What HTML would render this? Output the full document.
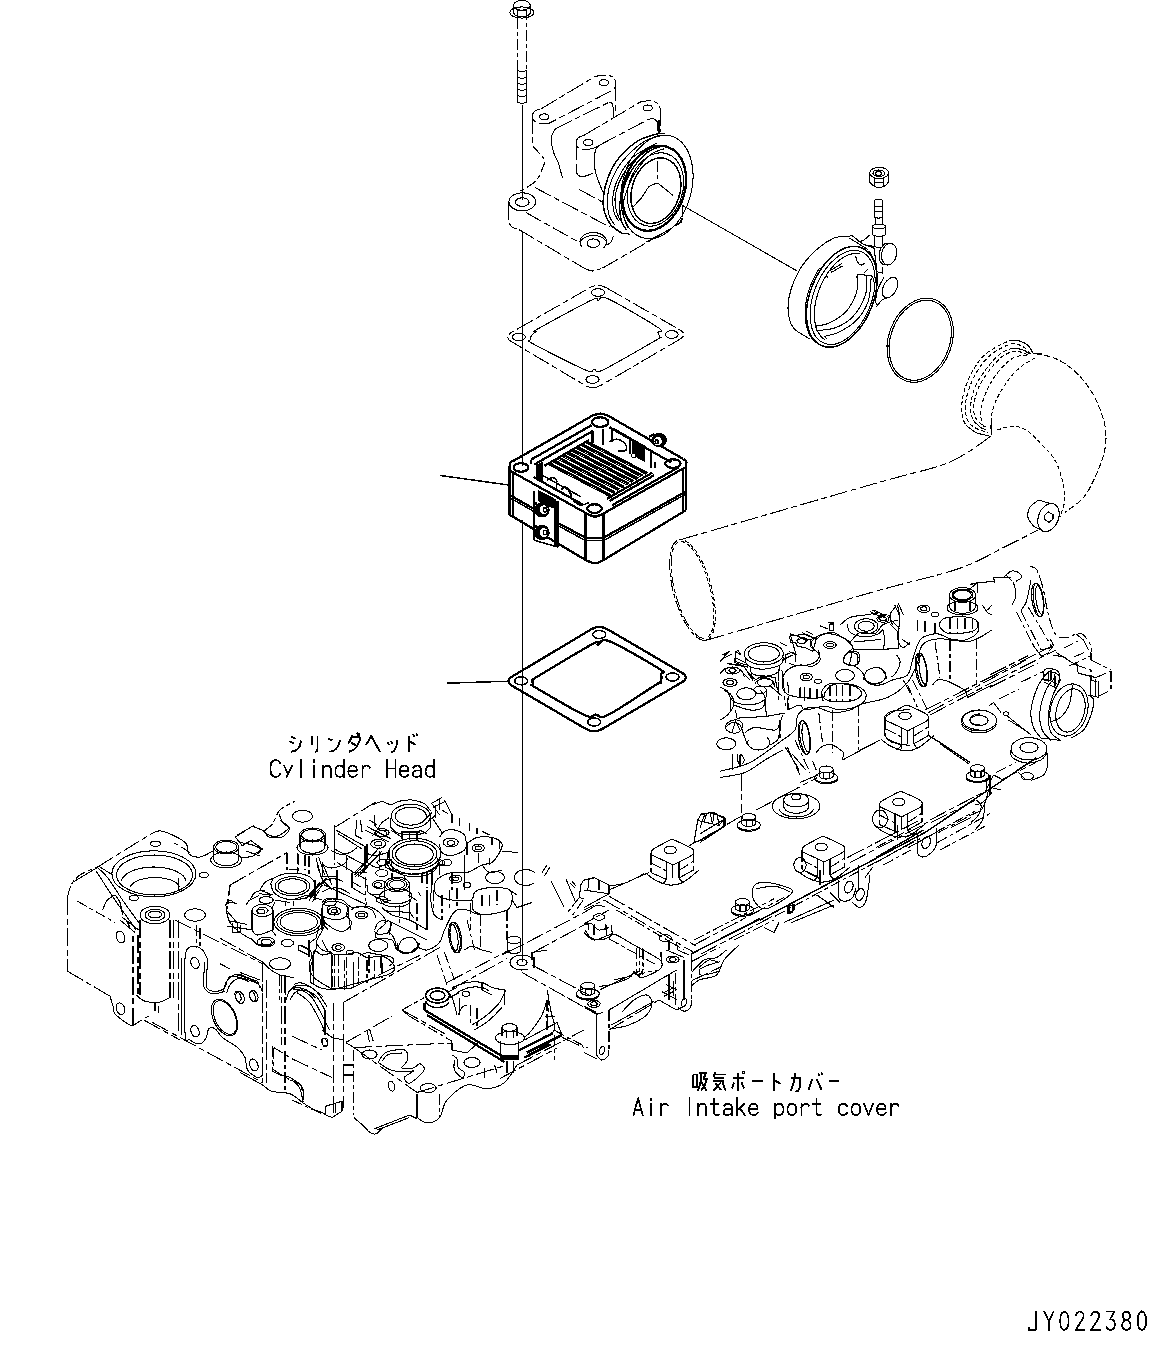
<!DOCTYPE html>
<html><head><meta charset="utf-8"><title>Diagram</title><style>
html,body{margin:0;padding:0;background:#fff}
svg{display:block;shape-rendering:crispEdges}
path,ellipse,line,circle,polyline{fill:none;stroke:#000;stroke-width:1.05;stroke-linecap:butt;stroke-linejoin:round}
.d{stroke-dasharray:18 3.5 6 3.5}
.d2{stroke-dasharray:11 3 4 3}
.h{stroke-dasharray:4 2.5}
.h2{stroke-dasharray:6 2.5}
.t{stroke-width:2.3}
.m{stroke-width:1.5}
.x{stroke-width:1.7}
.j{stroke-width:1.9}
.w{fill:#fff}
.k{fill:#000}
text{font-family:"Liberation Mono",monospace;fill:#000}
</style></head><body>
<svg width="1168" height="1361" viewBox="0 0 1168 1361">
<rect x="0" y="0" width="1168" height="1361" fill="#fff" stroke="none"/>
<!-- p01_bolt.py -->
<ellipse class="s" cx="521.9" cy="5.3" rx="8.4" ry="4.9"/>
<ellipse class="s" cx="521.9" cy="12.5" rx="12" ry="5.6"/>
<path class="s" d="M530.5 11.8 L530.4 12.5 L530.2 13.1 L529.8 13.7 L529.3 14.3 L528.7 14.9 L528 15.4 L527.1 15.9 L526.2 16.2 L525.2 16.5 L524.1 16.7 L523 16.9 L521.9 16.9 L520.8 16.9 L519.7 16.7 L518.6 16.5 L517.6 16.2 L516.7 15.9 L515.9 15.4 L515.1 14.9 L514.5 14.3 L514 13.7 L513.6 13.1 L513.4 12.5 L513.4 11.8"/>
<path class="s" d="M513.4 5.3 L513.4 11.8"/>
<path class="s" d="M530.5 5.3 L530.5 11.8"/>
<path class="s" d="M517.5 10.3 L526.4 10.3"/>
<path class="s" d="M517.5 10.3 L517.5 17.9"/>
<path class="s" d="M526.4 10.3 L526.4 17.9"/>
<path class="d2" d="M517.5 18 L517.5 71"/>
<path class="d2" style="stroke-dashoffset:9" d="M526.5 18 L526.5 71"/>
<path class="s" d="M517.5 71 L517.5 103"/>
<path class="s" d="M526.5 71 L526.5 103"/>
<path d="M517.5 70 Q522 74 526.5 70"/>
<path d="M517.5 76.5 Q522 80.5 526.5 76.5"/>
<path d="M517.5 82.5 Q522 86.5 526.5 82.5"/>
<path d="M517.5 88.5 Q522 92.5 526.5 88.5"/>
<path d="M517.5 95 Q522 99 526.5 95"/>
<path d="M517.5 101.5 Q522 105.5 526.5 101.5"/>
<path class="s" d="M522.5 105 L522.5 200"/>
<path class="s" d="M522.5 232 L522.5 466"/>
<path class="s" d="M522.5 520 L522.5 962"/>
<path class="m" d="M440.5 475.5 L508.5 485"/>
<path class="m" d="M446.7 683.2 L508.7 681.2"/>
<path class="s" d="M681.7 205 L797.5 271.2"/>
<!-- p02_housing.py -->
<path class="d2" d="M549.7 123C548.1 123.1 543 124.2 540.2 123.7C537.5 123.2 534.7 121.4 533.4 119.9C532.1 118.4 532.2 116.3 532.5 114.8C532.8 113.3 533.7 112 535.1 111C536.5 110 540.1 109.2 541.1 108.8"/>
<path class="d" d="M541.1 108.8 L595 76.6"/>
<path class="d2" d="M595 76.6C596.3 76.4 600 75.1 602.7 75.1C605.5 75 609.2 75.2 611.3 76.3C613.4 77.3 615 79.5 615.6 81.4C616.2 83.3 615.8 85.8 615.1 87.4C614.4 89 611.9 90.3 611.3 90.8"/>
<path class="d" d="M611.3 90.8 L549.7 123"/>
<ellipse class="s" cx="544.2" cy="116.8" rx="4.6" ry="2.9"/>
<ellipse class="s" cx="603.9" cy="82.6" rx="4.6" ry="2.9"/>
<path class="d" d="M532.5 115.7 L532.5 145.6"/>
<path class="d" d="M615.6 83.1 L615.6 113.1"/>
<path class="d" d="M555.7 128.5 L609.6 102"/>
<path class="s" d="M609.6 102C610 102.2 611.5 102.4 612.2 103.7C612.8 104.9 613.1 107.5 613.4 109.7C613.6 111.8 613.8 115.4 613.9 116.5"/>
<path class="d2" d="M532.5 145.6C533.5 146.8 536.5 150 538.5 152.5C540.5 154.9 543.9 157.3 544.5 160.2C545.1 163 543.2 166.3 542 169.6C540.7 172.9 539 177.2 536.8 179.9C534.7 182.6 532 183.9 529.1 185.9C526.3 187.8 521.3 190.6 519.7 191.5"/>
<path class="s" d="M555.7 128.5C555 129.6 552.6 133.1 551.9 135.3C551.2 137.6 551 139.2 551.4 142.2C551.7 145.2 552.8 149.9 553.9 153.3C555.1 156.7 556.8 158.6 558.2 162.7C559.6 166.9 561.8 175.6 562.5 178.2"/>
<path class="d2" d="M592.5 148.7C591 148.8 586.5 149.8 583.9 149.4C581.3 149 578.3 147.8 577.1 146.5C575.8 145.1 575.9 142.8 576.2 141.3C576.5 139.8 577.5 138.4 578.8 137.4C580.1 136.4 583 135.7 583.9 135.3"/>
<path class="d" d="M583.9 135.3 L640.4 102"/>
<path class="d2" d="M640.4 102C641.8 101.8 646.3 100.6 649 100.8C651.7 100.9 654.8 101.6 656.7 102.8C658.5 104 659.5 107.1 660.1 107.9"/>
<path class="d" d="M660.1 107.9 L660.1 131.9"/>
<path class="d" d="M600.2 144.8 L649 119.1"/>
<path class="s" d="M649 119.1C649.8 119.1 652.7 118.5 654.1 119.1C655.5 119.6 656.3 120.2 657.2 122.5C658 124.8 658.9 131.1 659.2 132.8"/>
<ellipse class="s" cx="588.2" cy="142.5" rx="4.6" ry="2.9"/>
<ellipse class="s" cx="647.6" cy="107.9" rx="4.6" ry="2.9"/>
<path class="d" d="M576.2 142.2 L576.2 169.6"/>
<path class="s" d="M576.2 169.6C576.5 170.5 576.6 173.9 577.9 175.1C579.2 176.2 581.3 176.8 583.9 176.4C586.5 176.1 591.8 173.6 593.3 173"/>
<path class="s" d="M600.2 144.8C599.5 145.5 596.8 147.2 595.9 149C595 150.9 594.8 152.5 594.7 155.9C594.5 159.3 594.3 165 595 169.6C595.8 174.2 597.7 179 599.3 183.3C600.9 187.6 603.6 193.3 604.5 195.3"/>
<path class="d" d="M592.5 148.7 L600.2 144.8"/>
<ellipse class="s" cx="656.9" cy="186.9" rx="34.7" ry="52.8" transform="rotate(15 656.9 186.9)"/>
<ellipse class="t" cx="654.2" cy="188.3" rx="30.5" ry="43.5" transform="rotate(18 654.2 188.3)"/>
<ellipse class="s" cx="655.5" cy="189.5" rx="27" ry="37.5" transform="rotate(18 655.5 189.5)"/>
<ellipse class="m" cx="655.9" cy="190.7" rx="23.9" ry="33.5" transform="rotate(18 655.9 190.7)"/>
<path class="m" d="M658.8 133.4C655.3 134.6 644.4 136.9 637.8 141C631.1 145.2 623.6 152.2 618.7 158.2C613.7 164.3 610.7 170.9 608.1 177.3C605.6 183.7 604 190.7 603.4 196.4C602.7 202.1 603.1 206.9 604.3 211.7C605.6 216.5 608 221.4 611 225.1C614 228.7 620.6 232.2 622.5 233.7"/>
<path class="s" d="M660.7 135.8C657.8 136.8 649.7 137.9 643.5 142C637.3 146 628.7 153.9 623.4 160.1C618.2 166.3 614.7 172.8 612 179.2C609.3 185.6 607.7 192.3 607.2 198.3C606.7 204.4 607.8 211.1 609.1 215.5C610.4 220 613.9 223.5 614.8 225.1"/>
<path class="s" d="M656.9 142.9C652.9 145.3 639.3 151.5 633 157.2C626.6 163 622 170.8 618.7 177.3C615.3 183.8 613.7 190.7 612.9 196.4C612.1 202.1 612.9 207.6 613.9 211.7C614.8 215.8 617.9 219.6 618.7 221.2"/>
<path class="s" d="M654.9 144.8C651.8 147.1 641.3 153.1 635.8 158.2C630.4 163.3 625.8 169.7 622.5 175.4C619.1 181.1 617 187.5 615.8 192.6C614.6 197.7 614.8 201.8 615.3 206C615.8 210.1 617.5 214.6 618.7 217.4C619.8 220.3 621.8 222.2 622.5 223.2"/>
<path class="m" d="M662.6 145.8C660 146.9 652.4 148.5 647.3 152.5C642.2 156.5 636 163.6 632 169.7C628 175.7 625.5 182.7 623.4 188.8C621.4 194.8 619.9 200.5 619.6 206C619.3 211.4 620.4 217.3 621.5 221.2C622.6 225.2 625.5 228.4 626.3 229.8"/>
<path class="s" d="M664.5 148.7C662.3 149.6 655.9 150.6 651.1 154.4C646.4 158.2 639.9 165.5 635.8 171.6C631.8 177.6 628.9 184.9 626.8 190.7C624.6 196.4 623.3 201.2 623 206C622.6 210.7 623.5 215.7 624.4 219.3C625.3 223 627.6 226.5 628.2 227.9"/>
<path class="s" d="M622.5 233.7 L630.1 234.1"/>
<path class="s" d="M658.8 133.4 L664.5 133.8"/>
<path class="m" d="M659.2 120 L659.2 132.9"/>
<path class="s" d="M656.9 120 L658.3 132.9"/>
<path class="d2" d="M657.5 161 L657.5 182.4"/>
<path class="s" d="M631.8 208.1C633.6 206.3 639.3 200.6 642.1 197C645 193.4 646.4 189.1 649 186.7C651.5 184.4 656.1 183.6 657.5 182.9"/>
<path class="s" d="M657.5 182.9 L672.9 195.3"/>
<ellipse class="s" cx="522.3" cy="201.8" rx="13.4" ry="9.1"/>
<ellipse class="s" cx="522.3" cy="202.1" rx="6.8" ry="4.3"/>
<path class="d" d="M508.9 202.1 L508.9 222.7"/>
<path class="d2" d="M508.9 222.7C509.4 223.4 510.3 225.8 512 227C513.6 228.1 517.7 229.1 518.8 229.5"/>
<path class="d" d="M518.8 229.5 L583.9 268"/>
<path class="d2" d="M583.9 268C585.3 268.5 589.3 271 592.5 271C595.6 271 601 268.5 602.7 268"/>
<path class="d" d="M602.7 268 L678.1 224.4"/>
<path class="d2" d="M678.1 224.4C678.7 224 680.8 223 681.5 221.8C682.2 220.7 682.2 218.2 682.4 217.5"/>
<path class="d" d="M525.7 212.4 L580.5 243.2"/>
<path class="d" d="M535.1 187.6 L609.6 227"/>
<path class="d" d="M578.8 189.3 L602.7 202.1"/>
<path class="d" d="M645.5 242.4 L669.5 229.5"/>
<path class="d2" d="M674 226C675 225.4 678.4 223.6 679.8 222.2C681.1 220.8 681.8 218.2 682.2 217.4"/>
<path class="d2" d="M682.2 206 L682.2 217.4"/>
<ellipse class="s" cx="593.3" cy="243.2" rx="6.3" ry="4.3"/>
<path class="s" d="M581.8 246.6 L580.7 245 L580.1 243.3 L580 241.6 L580.2 239.9 L580.9 238.3 L582.1 236.8 L583.5 235.4 L585.3 234.3 L587.4 233.4 L589.7 232.8 L592.1 232.5 L594.5 232.5 L596.9 232.8 L599.1 233.4 L601.2 234.3 L603 235.4 L604.5 236.7 L605.7 238.2 L606.4 239.9 L606.7 241.6 L606.5 243.3 L605.9 244.9 L604.9 246.5 L603.6 247.9"/>
<path class="s" d="M580.8 241.1 L581.3 240.3 L582 239.6 L582.7 238.9 L583.6 238.2 L584.6 237.6 L585.7 237.1 L586.8 236.6 L588 236.2 L589.3 235.9 L590.6 235.7 L592 235.6 L593.3 235.5 L594.7 235.6 L596 235.7 L597.3 235.9 L598.6 236.2 L599.8 236.6 L601 237.1 L602.1 237.6 L603 238.2 L603.9 238.9 L604.7 239.6 L605.3 240.3 L605.9 241.1"/>
<path class="d2" d="M607 244.9C607.7 244.4 610.2 243.2 611.3 241.5C612.4 239.8 613.4 235.8 613.9 234.7"/>
<!-- p03_gaskets.py -->
<path class="d" d="M606.2 287.7L679.8 329.8 Q688 334.5 679.8 339.3L601.2 385.2 Q593 390 584.8 385.2L511.7 341.8 Q503.5 337 511.7 332.3L589.8 287.7 Q598 283 606.2 287.7"/>
<ellipse class="s" cx="598" cy="292.5" rx="6.5" ry="3.8"/>
<ellipse class="s" cx="671.8" cy="334.5" rx="6.5" ry="3.8"/>
<ellipse class="s" cx="592.5" cy="379.5" rx="6.5" ry="3.8"/>
<ellipse class="s" cx="518.8" cy="337" rx="6.5" ry="3.8"/>
<path class="s" d="M531.8 335C532.8 333.6 535.7 332.3 536.8 331.2C537.8 330.2 528.8 334 538 328.8C547.2 323.5 581.8 304.7 591.8 300C601.8 295.3 595.3 300.7 598 300.5C600.7 300.3 598 294.2 608 298.8C618 303.2 649.7 321.9 658 327.5C666.3 333.1 657.7 330.8 658 332.5C658.3 334.2 660.4 336.2 660 337.5C659.6 338.8 665 335.1 655.5 340.5C646 345.9 613.2 365.2 603 370C592.8 374.8 597.2 369 594.2 369C591.3 369 595.7 374.2 585.5 370C575.3 365.8 542.2 348.8 533 343.8C523.8 338.7 530.7 341 530.5 339.5C530.3 338 530.7 336.4 531.8 335Z"/>
<path class="t" d="M607.5 629.3L681.8 672.7 Q690 677.5 681.8 682.3L602.4 728.9 Q594.2 733.8 586 729L512.5 686 Q504.2 681.2 512.4 676.4L591.1 629.4 Q599.2 624.5 607.5 629.3"/>
<ellipse class="m" cx="599.2" cy="634.5" rx="6.5" ry="4"/>
<ellipse class="m" cx="672.5" cy="677" rx="6.5" ry="4"/>
<ellipse class="m" cx="594.2" cy="722" rx="6.5" ry="4"/>
<ellipse class="m" cx="521.2" cy="680.8" rx="6.5" ry="4"/>
<path class="t" d="M533 680C533.8 678.5 528 682.3 538 676.2C548 670.2 583 649 593 643.8C603 638.5 595.3 645.4 598 645C600.7 644.6 599 637.3 609.2 641.2C619.5 645.2 650.6 663.3 659.2 668.8C667.9 674.2 661 671.5 661.2 673.8C661.5 676 661.5 680.6 660.5 682.5C659.5 684.4 664.2 679.6 655.5 685C646.8 690.4 618 710.1 608 715C598 719.9 599.5 714.5 595.5 714.5C591.5 714.5 594.2 719.5 584.2 715C574.2 710.5 544 692.5 535.5 687.5C527 682.5 533.4 686.2 533 685C532.6 683.8 532.2 681.5 533 680Z"/>
<!-- p04_heater.py -->
<path class="t" d="M509.4 465.8C509.6 465.2 509.9 463.2 510.6 462.4C511.3 461.5 513.2 460.9 513.7 460.7"/>
<path class="t" d="M513.7 460.7 L592.5 415.6"/>
<path class="t" d="M592.5 415.6C593.8 415.3 597.6 413.6 600.2 413.6C602.7 413.6 606.6 415.3 607.9 415.6"/>
<path class="t" d="M607.9 415.6 L683.2 458.9"/>
<path class="t" d="M683.2 458.9C683.7 459.4 685.9 460.5 686.3 461.5C686.7 462.6 685.9 464.6 685.8 465.3"/>
<path class="t" d="M685.8 465.3 L685.8 510.3"/>
<path class="t" d="M509.4 465.8 L509.4 514.6"/>
<path class="t" d="M510.3 470.9 L585.6 512.9"/>
<path class="t" d="M604.5 512.9 L684.9 467.5"/>
<path class="t" d="M585.6 512.9C587.2 513.5 591.9 516.6 595 516.6C598.2 516.6 602.9 513.5 604.5 512.9"/>
<path class="t" d="M585.6 512.9 L585.6 560"/>
<path class="t" d="M603.6 513.2 L603.6 560"/>
<path class="t" d="M509.4 514.6 L585.6 560"/>
<path class="t" d="M585.6 560C587.2 560.5 592 563.4 595 563.4C598 563.4 602.2 560.5 603.6 560"/>
<path class="t" d="M603.6 560 L685.8 510.3"/>
<path class="t" d="M509.4 494.9 L533.4 508.6"/>
<path class="t" d="M558.2 523.2 L585.6 537.7"/>
<path class="m" d="M509.4 497.5 L533.4 511.2"/>
<path class="m" d="M558.2 525.7 L585.6 540.6"/>
<path class="t" d="M585.6 537.7 L603.6 537.7"/>
<path class="m" d="M585.6 540.6 L603.6 540.6"/>
<path class="t" d="M603.6 537.7 L685.8 491.5"/>
<path class="m" d="M603.6 540.6 L685.8 494"/>
<path class="m" d="M512.8 470.9 L512.8 516.3"/>
<path class="m" d="M683.2 470.1 L683.2 511.2"/>
<path class="t" d="M530.8 459.8 L591.6 425.2"/>
<path class="t" d="M534.2 464.6 L593.3 430.7"/>
<path class="m" d="M530.8 459.8 L530.8 464.1"/>
<path class="t" d="M609.6 427.3 L671.2 462.4"/>
<path class="t" d="M612.2 505.2 L678.1 467.5"/>
<path class="t" d="M609.6 500.9 L654.1 475.2"/>
<path class="t" d="M533.4 476.9 L582.2 504.3"/>
<path class="m" d="M539.4 473.5 L580.5 496.6"/>
<ellipse class="t" cx="600.2" cy="422.1" rx="8.2" ry="4.8"/>
<ellipse class="t" cx="520.9" cy="467.5" rx="7.2" ry="4.3"/>
<ellipse class="t" cx="672.9" cy="463.6" rx="7.7" ry="4.3"/>
<ellipse class="t" cx="594.5" cy="508.6" rx="7.2" ry="4.3"/>
<path class="t" d="M586.5 441.3 L647.3 473"/>
<path class="s" d="M585.3 442.7 L646.1 474.3"/>
<path class="t" d="M581.8 444 L642.6 475.7"/>
<path class="s" d="M580.7 445.4 L641.4 477.1"/>
<path class="t" d="M577.2 446.8 L638 478.5"/>
<path class="s" d="M576 448.2 L636.8 479.8"/>
<path class="t" d="M572.6 449.5 L633.4 481.2"/>
<path class="s" d="M571.4 450.9 L632.2 482.6"/>
<path class="t" d="M568 452.3 L628.8 483.9"/>
<path class="s" d="M566.8 453.6 L627.6 485.3"/>
<path class="t" d="M563.4 455 L624.1 486.7"/>
<path class="s" d="M562.2 456.4 L622.9 488"/>
<path class="t" d="M558.7 457.7 L619.5 489.4"/>
<path class="s" d="M557.5 459.1 L618.3 490.8"/>
<path class="t" d="M554.1 460.5 L614.9 492.2"/>
<path class="s" d="M552.9 461.8 L613.7 493.5"/>
<path class="t" d="M549.5 463.2 L610.3 494.9"/>
<path class="s" d="M548.3 464.6 L609.1 496.3"/>
<path class="t" d="M544.5 465.8 L589 440.1"/>
<path class="t" d="M607 498.8 L652.4 472.6"/>
<path class="t" d="M592.5 430.7 L592.5 442.7"/>
<path class="t" d="M602.7 429 L602.7 445.2"/>
<path class="t" d="M612.2 428.1 L612.2 441.8"/>
<path class="t" d="M612.2 428.1 L630.1 438.4"/>
<path class="m" d="M630.1 438.4 L630.1 453.8"/>
<path class="t" d="M650.7 449.5 L650.7 468.4"/>
<path class="t" d="M655 461.5 L655 467.5"/>
<path class="m" d="M609.6 441.8C610.7 441.4 613.9 439 616.4 439.2C619 439.5 623.4 441.7 625 443.5C626.6 445.4 627 449.1 625.9 450.4C624.7 451.7 619.4 451.1 618.2 451.2"/>
<path class="k" d="M632.7 439.2 L644.7 446.1 L644.7 461.5 L632.7 454.7 Z"/>
<ellipse class="w" cx="633.6" cy="455.5" rx="2.1" ry="2.1"/>
<path class="k" d="M536.8 464.9 L542.8 462.4 L542.8 480.3 L536.8 476.9 Z"/>
<path class="m" d="M547.1 480.3C547.8 479.9 549.8 477.9 551.4 477.8C552.9 477.6 555.7 478.2 556.5 479.5C557.4 480.8 556.5 484.5 556.5 485.5"/>
<path class="m" d="M556.5 480.3 L556.5 488.9"/>
<path class="t" d="M561.6 489.8C562.2 489.3 563.6 486.8 565.1 487.2C566.5 487.6 569.2 490.5 570.2 492.3C571.2 494.2 570.9 497.3 571.1 498.3"/>
<path class="m" d="M573.6 500.9C574.8 501.6 577.9 504.9 580.5 505.2C583 505.5 587.6 503 589 502.6"/>
<path class="t" d="M534.2 490.6 L534.2 540.3"/>
<path class="t" d="M558.2 500.9 L558.2 547.1"/>
<path class="t" d="M554.8 499.2 L554.8 545.4"/>
<path class="m" d="M534.2 540.3 L558.2 547.1"/>
<path class="k" d="M538.5 490.6 L553.1 498.3 L553.1 507.7 L538.5 500.9 Z"/>
<ellipse class="k" cx="542" cy="509.8" rx="7.2" ry="7.2"/>
<ellipse class="w" cx="543.8" cy="509.8" rx="4.5" ry="5"/>
<ellipse class="m" cx="545.2" cy="509.8" rx="1.7" ry="2.2"/>
<path class="t" d="M534.2 504.7 L536.8 502.1"/>
<ellipse class="k" cx="542" cy="532.6" rx="7.2" ry="7.2"/>
<ellipse class="w" cx="543.8" cy="532.6" rx="4.5" ry="5"/>
<ellipse class="m" cx="545.2" cy="532.6" rx="1.7" ry="2.2"/>
<path class="t" d="M534.2 527.4 L536.8 524.9"/>
<path class="t" d="M556.5 500.9 L556.5 546.3"/>
<ellipse class="k" cx="659.2" cy="440.1" rx="7.2" ry="6.8"/>
<ellipse class="w" cx="657.9" cy="441.3" rx="4.3" ry="4.6"/>
<ellipse class="m" cx="656.7" cy="441.8" rx="1.5" ry="1.9"/>
<path class="t" d="M649 436.7 L654.1 434.1"/>
<path class="t" d="M649.8 439.2 L653.3 443.5"/>
<!-- p05_clamp.py -->
<path class="s" d="M846.2 236.5C844.2 236.7 839.1 236 834.4 237.9C829.8 239.9 823.6 243.6 818.2 248.2C812.8 252.9 806.6 259 802.1 265.9C797.5 272.7 793.4 282.1 791 289.4C788.7 296.8 787.7 303.6 788.1 310C788.5 316.4 789.7 322.9 793.2 327.6C796.8 332.4 806.7 336.8 809.4 338.7"/>
<ellipse class="m" cx="841.8" cy="296.8" rx="31.5" ry="52.8" transform="rotate(22 841.8 296.8)"/>
<ellipse class="s" cx="842.6" cy="297.4" rx="28.8" ry="49.4" transform="rotate(22 842.6 297.4)"/>
<path class="s" d="M824.9 339.7 L822.3 337.7 L819.9 335.1 L817.9 331.9 L816.4 328.2 L815.2 324 L814.6 319.4 L814.3 314.5 L814.5 309.4 L815.2 304 L816.4 298.6 L817.9 293.1 L819.9 287.7 L822.2 282.5 L824.9 277.5 L827.8 272.8 L831.1 268.5 L834.5 264.6 L838.1 261.2 L841.8 258.4 L845.5 256.2 L849.2 254.6 L852.8 253.7 L856.3 253.4 L859.6 253.9"/>
<path class="s" d="M828.7 346.4 L825.8 346.3 L822.9 345.8 L820.2 344.8 L817.7 343.5 L815.3 341.8 L813.1 339.7 L811.2 337.3 L809.5 334.5 L808.1 331.4 L806.9 328 L806 324.3 L805.4 320.4 L805.1 316.3 L805.1 312 L805.3 307.6 L805.9 303.1 L806.7 298.6 L807.8 294 L809.2 289.5 L810.8 285 L812.7 280.5 L814.8 276.3 L817.1 272.1 L819.6 268.2"/>
<path class="s" d="M857.9 274.7C857.7 277.6 858.4 286.2 856.5 292.4C854.5 298.5 850.8 306.3 846.2 311.5C841.5 316.6 833.7 320.8 828.5 323.2C823.4 325.7 817.5 325.7 815.3 326.2"/>
<path class="s" d="M866.8 276.2C866.5 279.4 867.5 288.7 865.3 295.3C863.1 301.9 858.4 310.5 853.5 315.9C848.6 321.3 842 325.2 835.9 327.6C829.8 330.1 820 330.1 816.8 330.6"/>
<path class="s" d="M871.2 277.6C870.7 281.6 870.7 294.1 868.2 301.2C865.8 308.3 861.4 315.1 856.5 320.3C851.6 325.4 844.2 329.4 838.8 332.1C833.4 334.8 826.6 335.7 824.1 336.5"/>
<path class="s" d="M857.9 274 L872.6 276.2"/>
<path class="s" d="M857.9 274 L856.5 277.6"/>
<path class="s" d="M872.6 276.2 L874.1 282.1"/>
<path class="s" d="M815.3 326.2 L816.8 330.6"/>
<path class="s" d="M824.1 336.5 L827.1 338.7"/>
<path class="s" d="M855.7 256.3C856 257.2 856.3 260 857.2 261.5C858.1 262.9 859.5 264.9 860.9 265.1C862.2 265.4 864.6 263.3 865.3 262.9"/>
<path class="s" d="M868.2 268.8 L863.8 273.2"/>
<path class="s" d="M830.7 270.3 L841.8 263.7"/>
<path class="s" d="M830.7 270.3 L831.5 272.5 L842.5 265.9"/>
<path class="s" d="M824.1 277.6 L827.1 276.2 L827.8 278.4"/>
<path class="s" d="M846.2 236.5 L852.1 235.7 L862.4 243.8 L874.1 248.2"/>
<path class="s" d="M856.5 242.4C857.7 242 861.6 241.4 863.8 240.1C866 238.9 868.7 235.9 869.7 235"/>
<path class="s" d="M868.2 245.3 L881.5 248.2"/>
<path class="s" d="M874.1 248.2 L877.1 271.8"/>
<path class="s" d="M877.1 271.8 L882.9 273.2"/>
<path class="s" d="M882.9 267.4 L882.9 273.2"/>
<path class="s" d="M849.1 237.9 L868.2 249.7"/>
<path class="s" d="M869.7 251.2 L875.6 262.9"/>
<ellipse class="s" cx="889.1" cy="254.1" rx="7.4" ry="11" transform="rotate(12 889.1 254.1)"/>
<path class="s" d="M883.1 264.5 L882.4 264 L881.7 263.4 L881 262.7 L880.5 261.9 L880 260.9 L879.6 259.9 L879.3 258.8 L879.2 257.6 L879.1 256.4 L879.1 255.1 L879.2 253.9 L879.4 252.6 L879.7 251.3 L880.1 250.1 L880.6 249 L881.2 247.9 L881.9 246.9 L882.6 246 L883.3 245.2 L884.2 244.6 L885 244 L885.9 243.6 L886.8 243.3 L887.6 243.2"/>
<path class="s" d="M882.9 244.1 L891 243.2"/>
<path class="s" d="M880.7 263.7 L888.1 265.1"/>
<ellipse class="s" cx="890" cy="287.6" rx="6.6" ry="11" transform="rotate(28 890 287.6)"/>
<path class="s" d="M883.7 277.6C882.7 279.6 879.1 285.5 877.8 289.4C876.4 293.3 875.7 298.6 875.6 301.2C875.5 303.8 877.1 304.2 877.4 304.9"/>
<path class="s" d="M886.6 298.2C885.8 298.6 883.2 299 881.5 300.4C879.8 301.9 877.2 306 876.3 307.1"/>
<path class="s" d="M874.1 201.2 L874.1 216.6"/>
<path class="s" d="M882.9 201.2 L882.9 216.6"/>
<path class="s" d="M874.1 201.2 L874.2 200.9 L874.3 200.7 L874.5 200.5 L874.7 200.3 L875 200.1 L875.4 199.9 L875.8 199.8 L876.3 199.6 L876.8 199.5 L877.4 199.5 L878 199.4 L878.5 199.4 L879.1 199.4 L879.7 199.5 L880.2 199.5 L880.7 199.6 L881.2 199.8 L881.6 199.9 L882 200.1 L882.4 200.3 L882.6 200.5 L882.8 200.7 L882.9 200.9 L882.9 201.2"/>
<path class="s" d="M874.1 206.3 L882.9 206.3"/>
<path class="s" d="M874.1 211.5 L882.9 211.5"/>
<path class="s" d="M882.9 216.6 L882.9 216.8 L882.8 217 L882.6 217.2 L882.4 217.4 L882 217.5 L881.6 217.7 L881.2 217.8 L880.7 217.9 L880.2 218 L879.7 218 L879.1 218.1 L878.5 218.1 L878 218.1 L877.4 218 L876.8 218 L876.3 217.9 L875.8 217.8 L875.4 217.7 L875 217.5 L874.7 217.4 L874.5 217.2 L874.3 217 L874.2 216.8 L874.1 216.6"/>
<path class="s" d="M875.3 218.1 L875.3 225.4"/>
<path class="s" d="M882.2 218.1 L882.2 225.4"/>
<ellipse class="s" cx="879.1" cy="226.5" rx="6.5" ry="2.1"/>
<path class="s" d="M872.6 226.5 L872.6 234.3"/>
<path class="s" d="M885.6 226.5 L885.6 234.3"/>
<path class="s" d="M885.6 234.3 L885.5 234.5 L885.4 234.8 L885.1 235.1 L884.7 235.3 L884.3 235.5 L883.7 235.7 L883.1 235.9 L882.4 236 L881.6 236.2 L880.8 236.3 L880 236.3 L879.1 236.3 L878.3 236.3 L877.4 236.3 L876.6 236.2 L875.9 236 L875.2 235.9 L874.5 235.7 L874 235.5 L873.5 235.3 L873.1 235.1 L872.9 234.8 L872.7 234.5 L872.6 234.3"/>
<path class="s" d="M874.9 236.2 L874.9 246"/>
<path class="s" d="M882.9 236.2 L882.9 246"/>
<ellipse class="s" cx="879.1" cy="172.9" rx="9.4" ry="5.6"/>
<ellipse class="s" cx="878.8" cy="173.2" rx="5.9" ry="3.2"/>
<ellipse class="s" cx="878.5" cy="173.5" rx="3.2" ry="1.8"/>
<path class="s" d="M869.7 173.5 L869.7 182.1"/>
<path class="s" d="M888.5 173.5 L888.5 182.1"/>
<path class="s" d="M874.9 177.9 L874.9 186.5"/>
<path class="s" d="M883.7 177.9 L883.7 186.5"/>
<path class="s" d="M869.7 182.1C870.4 182.7 872.5 185.3 874.1 186.2C875.7 187.1 877.5 187.4 879.3 187.4C881 187.4 882.9 187.1 884.4 186.2C886 185.3 887.8 182.7 888.5 182.1"/>
<path class="s" d="M874.9 182.1 L883.7 182.1"/>
<ellipse class="s" cx="920.2" cy="340.2" rx="31.6" ry="43.2" transform="rotate(20 920.2 340.2)"/>
<ellipse class="s" cx="920.2" cy="340.2" rx="29.6" ry="41.2" transform="rotate(20 920.2 340.2)"/>
<!-- p06_pipe.py -->
<path class="d2" d="M706.2 640.2 L703.7 640.4 L701 639.8 L698.1 638.3 L695.2 636 L692.2 632.9 L689.2 629 L686.2 624.5 L683.4 619.4 L680.7 613.9 L678.3 607.8 L676 601.5 L674.1 595 L672.4 588.5 L671.2 581.9 L670.2 575.5 L669.7 569.3 L669.5 563.5 L669.8 558.1 L670.4 553.3 L671.4 549.1 L672.8 545.6 L674.5 542.9 L676.5 540.9 L678.8 539.8"/>
<path class="d2" d="M704.2 638.4 L701.9 638.1 L699.4 637.1 L696.9 635.3 L694.2 632.8 L691.6 629.7 L689 626 L686.4 621.7 L683.9 617 L681.5 611.8 L679.4 606.3 L677.4 600.5 L675.6 594.6 L674.1 588.6 L672.9 582.7 L672 576.8 L671.4 571.2 L671.1 565.8 L671.1 560.8 L671.5 556.3 L672.2 552.2 L673.2 548.8 L674.5 546 L676.1 543.8 L677.9 542.4"/>
<path class="h" d="M678.8 539.8 L681.3 539.6 L684 540.2 L686.9 541.7 L689.8 544 L692.8 547.1 L695.8 551 L698.8 555.5 L701.6 560.6 L704.3 566.1 L706.7 572.2 L709 578.5 L710.9 585 L712.6 591.5 L713.8 598.1 L714.8 604.5 L715.3 610.7 L715.5 616.5 L715.2 621.9 L714.6 626.7 L713.6 630.9 L712.2 634.4 L710.5 637.1 L708.5 639.1 L706.2 640.2"/>
<path class="h" d="M680.8 541.6 L683.1 541.9 L685.6 542.9 L688.1 544.7 L690.8 547.2 L693.4 550.3 L696 554 L698.6 558.3 L701.1 563 L703.5 568.2 L705.6 573.7 L707.6 579.5 L709.4 585.4 L710.9 591.4 L712.1 597.3 L713 603.2 L713.6 608.8 L713.9 614.2 L713.9 619.2 L713.5 623.7 L712.8 627.8 L711.8 631.2 L710.5 634 L708.9 636.2 L707.1 637.6"/>
<path class="d" d="M681 539.5C713.5 530.1 833.1 495.4 876 483.2C918.9 471 923.7 471.1 938.5 466.2C953.3 461.3 956.2 459 965 454C973.8 449 986.7 439 991 436"/>
<path class="d" d="M707 640C735.2 631.9 834.1 603.1 876 591.2C917.9 579.3 936.8 576.2 958.5 568.7C980.2 561.2 992.8 552.7 1006 546.2C1019.2 539.8 1032.7 532.7 1038 530"/>
<path class="h2" d="M1036 353.8C1039.3 354.6 1049.3 355.6 1056 358.8C1062.7 361.9 1069.8 366.5 1076 372.5C1082.2 378.5 1088.7 386.2 1093.5 395C1098.3 403.8 1102.9 415.8 1104.8 425C1106.6 434.2 1106.2 441.7 1104.8 450C1103.3 458.3 1099.5 467.1 1096 475C1092.5 482.9 1088.7 491.2 1083.5 497.5C1078.3 503.8 1067.9 510 1064.8 512.5"/>
<path class="h" d="M997.2 430C999.8 429.4 1007.5 426.2 1012.2 426.2C1017 426.2 1021.2 427.1 1026 430C1030.8 432.9 1036.2 438.8 1041 443.8C1045.8 448.8 1051.2 454 1054.8 460C1058.3 466 1060.6 473.3 1062.2 480C1063.9 486.7 1065.2 493.8 1064.8 500C1064.3 506.2 1060.6 514.6 1059.8 517.5"/>
<path class="h" d="M1033.2 353.6C1032.4 352.3 1030.5 347.6 1028.1 345.4C1025.7 343.3 1021.6 341.6 1018.9 340.8C1016.1 339.9 1014.9 339.5 1011.7 340.3C1008.4 341 1003.8 343 999.3 345.4C994.9 347.8 989.2 350.7 984.9 354.7C980.7 358.6 976.7 364.1 973.6 369.1C970.6 374 968.3 379.3 966.4 384.5C964.6 389.6 963 394.7 962.3 399.9C961.6 405 961.6 411 962.3 415.3C963 419.6 964 422.7 966.4 425.6C968.8 428.5 973 431.1 976.7 432.8C980.5 434.5 987 435.3 989.1 435.9"/>
<path class="h" d="M1030.2 354.2C1029.3 353.1 1027.1 349.6 1025 348C1023 346.4 1020.1 345.1 1017.8 344.4C1015.6 343.7 1014.4 343.3 1011.7 343.9C1008.9 344.5 1005.3 345.8 1001.4 348C997.4 350.2 992.1 353.4 988 357.2C984 361.1 980.2 366.3 977.2 371.1C974.2 375.9 971.9 381 970 386C968.2 391 966.6 396.2 965.9 400.9C965.2 405.6 965.3 410.5 965.9 414.3C966.5 418 967.4 421 969.5 423.5C971.7 426.1 975.7 428.2 978.8 429.7C981.9 431.1 986.5 431.8 988 432.3"/>
<path class="h" d="M1031.2 354.2C1029.7 353.4 1025.2 350.5 1021.9 349.5C1018.7 348.6 1015.4 347.6 1011.7 348.5C1007.9 349.4 1003.4 351.4 999.3 354.7C995.2 357.9 990.8 363.2 987 368C983.2 372.8 979.2 378.6 976.7 383.4C974.2 388.2 973.1 392.4 972.1 396.8C971.1 401.3 970.3 406.2 970.6 410.2C970.8 414.1 971.9 417.5 973.6 420.4C975.4 423.4 978.8 426.1 980.8 427.6C982.9 429.2 985.1 429.3 986 429.7"/>
<path class="h" d="M1028.1 355.2C1026.9 354.7 1023.5 352.7 1020.9 352.1C1018.3 351.5 1015.9 350.7 1012.7 351.6C1009.4 352.4 1005.2 354.2 1001.4 357.2C997.5 360.3 993.2 365.5 989.6 370.1C986 374.7 982.2 380.4 979.8 385C977.4 389.6 976.2 393.6 975.2 397.8C974.2 402 973.5 406.7 973.6 410.2C973.8 413.7 974.8 416.4 976.2 418.9C977.7 421.4 980.7 423.7 982.4 425.1C984 426.4 985.4 426.8 986 427.1"/>
<path class="h" d="M1027.1 355.7C1025.2 355.9 1019.4 355.4 1015.8 356.7C1012.2 358.1 1009.1 360.5 1005.5 363.9C1001.9 367.3 997.4 372.5 994.2 377.3C990.9 382.1 988.2 387.4 986 392.7C983.7 398 981.5 404.2 980.8 409.1C980.1 414.1 981.1 419.2 981.9 422.5C982.6 425.8 984.9 427.6 985.5 428.7"/>
<path class="h" d="M1035.3 357.7C1033.1 359.1 1026.2 362.5 1021.9 366C1017.7 369.4 1013.5 373.3 1009.6 378.3C1005.7 383.3 1001 390.8 998.3 395.8C995.6 400.7 994.4 404 993.2 408.1C992 412.2 991.5 416 991.1 420.4C990.8 424.9 991.1 432.4 991.1 434.8"/>
<path class="s" d="M1011.7 340.3C1012.9 340.4 1016.1 339.9 1018.9 340.8C1021.6 341.6 1025.7 343.3 1028.1 345.4C1030.5 347.6 1032.4 352.3 1033.2 353.6"/>
<path class="s" d="M1011.7 348.5C1013.4 348.7 1018.9 348.6 1021.9 349.5C1025 350.5 1028.8 353.4 1030.2 354.2"/>
<path class="s" d="M1033.2 353.6 L1042.5 353.4"/>
<path class="s" d="M966.4 425.6C968.2 426.8 973 431.1 976.7 432.8C980.5 434.5 987 435.3 989.1 435.9"/>
<path class="s" d="M973.6 420.4C974.8 421.6 978.8 426.1 980.8 427.6C982.9 429.2 985.1 429.3 986 429.7"/>
<path class="s" d="M991.1 420.4 L991.1 434.8"/>
<ellipse class="s" cx="1048.5" cy="517.5" rx="10" ry="14.5" transform="rotate(22 1048.5 517.5)"/>
<path class="s" d="M1038.5 500C1037 501.2 1031.5 504.6 1029.8 507.5C1028 510.4 1027.4 514.4 1028 517.5C1028.6 520.6 1032.6 524.8 1033.5 526.2"/>
<path class="s" d="M1038.5 500 L1048.5 503"/>
<path class="s" d="M1033.5 526.2 L1043 531.2"/>
<path class="s" d="M1044.8 515 L1048.5 512 L1053 514.5 L1053 519 L1049 522.5 L1044.8 519.5Z"/>
<!-- p09_labels.py -->
<path class="j" d="M291.2 736.8 L295.6 738.6"/>
<path class="j" d="M289.4 741.1 L293.8 743.6"/>
<path class="j" d="M311.9 735.5 L311.9 744.9"/>
<path class="j" d="M328.1 738.6 L332.5 740.5"/>
<path class="j" d="M366.2 744.9 L371.2 736.1 L380 751.8"/>
<path class="j" d="M387.5 741.8 L388.8 744.9"/>
<path class="j" d="M391.2 741.1 L392.5 744.2"/>
<path class="j" d="M409.4 735.5 L409.4 751.8"/>
<path class="j" d="M409.4 741.1 L415.6 744.9"/>
<path class="j" d="M413.1 734.2 L414.4 736.8"/>
<path class="j" d="M416.2 733.6 L417.5 736.1"/>
<path class="j" d="M350.6 742.4 L356.2 745.5"/>
<path class="j" d="M356.5 733.2 L360 734"/>
<path class="j" d="M357.2 734.5 L360.2 735.2"/>
<path class="j" d="M301.2 740.5C300.9 741.5 300.3 745.1 299.4 746.8C298.4 748.4 297 749.7 295.6 750.5C294.3 751.3 292 751.5 291.2 751.8"/>
<path class="j" d="M317.5 735.5C317.5 737.6 317.6 745.4 317.5 748C317.4 750.6 317.3 750.5 316.9 751.1C316.5 751.8 315.3 751.6 315 751.8"/>
<path class="j" d="M340 739.9C339.7 740.9 339.2 744.4 338.1 746.1C337.1 747.9 335.2 749.6 333.8 750.5C332.3 751.4 330.1 751.5 329.4 751.8"/>
<path class="j" d="M352.5 735.5C352.1 736.3 350.7 739.1 350 740.5C349.3 741.9 348.4 743.1 348.1 743.6"/>
<path class="j" d="M352.5 737.4C353.8 737.4 359.1 736.2 360 737.4C360.9 738.5 359.1 742.3 358.1 744.2C357.2 746.2 355.9 748 354.4 749.2C352.8 750.5 349.7 751.3 348.8 751.8"/>
<path class="j" d="M397.5 739.9C397.3 741 396.9 744.9 396.2 746.8C395.6 748.6 394.6 750.3 393.8 751.1C392.9 752 391.7 751.6 391.2 751.8"/>
<path class="j" d="M692.8 1074.5 L692.8 1087.2 L697.2 1087.2 L697.2 1074.5 L692.8 1074.5"/>
<path class="j" d="M698.6 1073.1 L705.9 1073.1 L703.5 1079 L706.8 1079 L705.2 1084.5 L701.1 1090.7"/>
<path class="j" d="M701.3 1073.1 L700.4 1082.4 L698.1 1090.7"/>
<path class="j" d="M701.1 1081.1 L706.5 1090.9"/>
<path class="j" d="M715.5 1072.2 L713.4 1077"/>
<path class="j" d="M714.8 1074.5 L725.7 1074.5"/>
<path class="j" d="M714.1 1077.6 L724.4 1077.6"/>
<path class="j" d="M713.4 1080.8 L723 1080.8 L723.7 1086.5 L725.7 1090.7"/>
<path class="j" d="M715.5 1083.1 L720.9 1090"/>
<path class="j" d="M720.9 1082.4 L713.4 1090.7"/>
<path class="j" d="M732.6 1077.6 L743.5 1077.6"/>
<path class="j" d="M738.1 1072.8 L738.1 1091.3"/>
<path class="j" d="M733.9 1082.4 L731.9 1088.6"/>
<path class="j" d="M741.5 1082.4 L744.2 1088.6"/>
<path class="j" d="M751.8 1081.1 L762.7 1081.1"/>
<path class="j" d="M773.7 1072.8 L773.7 1091.3"/>
<path class="j" d="M773.7 1079.7 L780.5 1083.8"/>
<path class="j" d="M790.8 1077.6 L800.4 1077.6 L799.7 1087.9 L797.6 1091.3 L795.6 1090.7"/>
<path class="j" d="M794.9 1072.8 L794.2 1081.1 L790.8 1090.7"/>
<path class="j" d="M812 1079 L808.6 1090"/>
<path class="j" d="M816.8 1079 L821.6 1090"/>
<path class="j" d="M818.2 1073.5 L819.6 1076.3"/>
<path class="j" d="M821.3 1072.6 L822.7 1075.3"/>
<path class="j" d="M828.5 1081.1 L838.7 1081.1"/>
<ellipse class="s" cx="743.5" cy="1072.6" rx="1.2" ry="1.2"/>
<!-- p09b_text.py -->
<path class="x" style="stroke-linejoin:round;stroke-linecap:square" d="M280 763 L278.5 760.7 L275.9 760 L273.4 760.5 L271.3 762.5 L270.6 766 L270.6 771 L271.3 774.5 L273.4 776.5 L275.9 777 L278.5 776.3 L280 774M284 765.5 L287.9 773.5M292.4 765.5 L286.4 777M301.2 760 L301.2 777M314 765.5 L314 777M314 760.2 L314 762M322.8 765.5 L322.8 777M322.8 769 L324.4 766.5 L326.9 765.5 L329.5 766.2 L330.8 768.5 L330.8 777M343.7 768.5 L342.4 766.2 L339.8 765.5 L337.3 766.2 L335.7 768.5 L335.4 771.3 L335.7 774 L337.3 776.2 L339.8 777 L342.4 776.2 L343.7 774M343.7 760 L343.7 777M348.4 771 L356.8 771 L356.8 769 L355.7 766.5 L352.7 765.5 L350.1 766.2 L348.6 768.5 L348.3 771.3 L348.6 774 L350.1 776.2 L352.7 777 L355.2 776.4 L356.8 774.5M362.5 765.5 L362.5 777M362.5 769 L364 766.5 L366.6 765.5 L368.6 766 L369.6 767.5M387 760 L387 777M395.4 760 L395.4 777M387 768.5 L395.4 768.5M399.9 771 L408.3 771 L408.3 769 L407.3 766.5 L404.2 765.5 L401.7 766.2 L400.1 768.5 L399.8 771.3 L400.1 774 L401.7 776.2 L404.2 777 L406.8 776.4 L408.3 774.5M413.5 767.5 L415 766 L417.1 765.5 L419.6 766.2 L421 768.5 L421 777M421 770.5 L417.1 770.5 L414.5 771 L413 772.5 L412.8 774 L413.3 775.8 L415 776.8 L417.1 777 L419.6 776 L421 774M433.8 768.5 L432.5 766.2 L430 765.5 L427.4 766.2 L425.9 768.5 L425.6 771.3 L425.9 774 L427.4 776.2 L430 777 L432.5 776.2 L433.8 774M433.8 760 L433.8 777"/>
<path class="x" style="stroke-linejoin:round;stroke-linecap:square" d="M633.5 1115.2 L638.1 1098.2 L642.7 1115.2M635 1109.7 L641.2 1109.7M651.1 1103.7 L651.1 1115.2M651.1 1098.4 L651.1 1100.2M660.8 1103.7 L660.8 1115.2M660.8 1107.2 L662.4 1104.7 L664.9 1103.7 L667 1104.2 L668 1105.7M689.5 1098.2 L689.5 1115.2M698.2 1103.7 L698.2 1115.2M698.2 1107.2 L699.8 1104.7 L702.3 1103.7 L704.9 1104.4 L706.2 1106.7 L706.2 1115.2M714.1 1099.2 L714.1 1113.2 L714.9 1114.6 L716.6 1115.2 L718.7 1114.7M710.8 1103.7 L718.2 1103.7M724.3 1105.7 L725.9 1104.2 L727.9 1103.7 L730.5 1104.4 L731.8 1106.7 L731.8 1115.2M731.8 1108.7 L727.9 1108.7 L725.4 1109.2 L723.8 1110.7 L723.6 1112.2 L724.1 1114 L725.9 1115 L727.9 1115.2 L730.5 1114.2 L731.8 1112.2M737.1 1098.2 L737.1 1115.2M744.3 1103.7 L737.1 1110.7M739.9 1108.2 L744.8 1115.2M749.2 1109.2 L757.6 1109.2 L757.6 1107.2 L756.6 1104.7 L753.5 1103.7 L751 1104.4 L749.4 1106.7 L749.1 1109.5 L749.4 1112.2 L751 1114.4 L753.5 1115.2 L756.1 1114.6 L757.6 1112.7M775 1103.7 L775 1117.7M779.1 1103.7 L776.5 1104.4 L775 1106.7 L774.7 1109.5 L775 1112.2 L776.5 1114.4 L779.1 1115.2 L781.6 1114.4 L783.2 1112.2 L783.5 1109.5 L783.2 1106.7 L781.6 1104.4 L779.1 1103.7M791.9 1103.7 L789.4 1104.4 L787.8 1106.7 L787.5 1109.5 L787.8 1112.2 L789.4 1114.4 L791.9 1115.2 L794.5 1114.4 L796 1112.2 L796.3 1109.5 L796 1106.7 L794.5 1104.4 L791.9 1103.7M801.6 1103.7 L801.6 1115.2M801.6 1107.2 L803.2 1104.7 L805.7 1103.7 L807.8 1104.2 L808.8 1105.7M816.5 1099.2 L816.5 1113.2 L817.3 1114.6 L819 1115.2 L821.1 1114.7M813.2 1103.7 L820.6 1103.7M847.2 1106.2 L845.6 1104.4 L843.1 1103.7 L840.5 1104.4 L839 1106.7 L838.7 1109.5 L839 1112.2 L840.5 1114.4 L843.1 1115.2 L845.6 1114.4 L847.2 1112.7M855.9 1103.7 L853.4 1104.4 L851.8 1106.7 L851.5 1109.5 L851.8 1112.2 L853.4 1114.4 L855.9 1115.2 L858.5 1114.4 L860 1112.2 L860.3 1109.5 L860 1106.7 L858.5 1104.4 L855.9 1103.7M864.1 1103.7 L868.5 1115.2 L873 1103.7M877.2 1109.2 L885.6 1109.2 L885.6 1107.2 L884.6 1104.7 L881.5 1103.7 L879 1104.4 L877.4 1106.7 L877.1 1109.5 L877.4 1112.2 L879 1114.4 L881.5 1115.2 L884.1 1114.6 L885.6 1112.7M891.2 1103.7 L891.2 1115.2M891.2 1107.2 L892.8 1104.7 L895.3 1103.7 L897.4 1104.2 L898.4 1105.7"/>
<path class="x" style="stroke-linejoin:round;stroke-linecap:square" d="M1036.1 1311.6 L1036.1 1328.9 L1035.1 1330 L1029.1 1330 L1029.1 1327.8M1044.4 1311.6 L1048.9 1321.4 L1053.4 1311.6M1048.9 1321.4 L1048.9 1330M1064.4 1311.6 L1062.1 1312.7 L1060.6 1316 L1060.2 1320.8 L1060.6 1325.7 L1062.1 1328.9 L1064.4 1330 L1066.6 1328.9 L1068.2 1325.7 L1068.6 1320.8 L1068.2 1316 L1066.6 1312.7 L1064.4 1311.6M1075.9 1315.4 L1076.9 1312.9 L1079.1 1311.6 L1081.6 1311.9 L1083.4 1313.8 L1083.7 1316.2 L1082.6 1319.2 L1075.6 1330 L1084.4 1330M1091.4 1315.4 L1092.4 1312.9 L1094.6 1311.6 L1097.1 1311.9 L1098.9 1313.8 L1099.2 1316.2 L1098.1 1319.2 L1091.1 1330 L1099.9 1330M1106.9 1311.6 L1114.6 1311.6 L1110.1 1319.2 L1112.6 1319.7 L1114.4 1321.6 L1114.9 1324.6 L1114.1 1327.8 L1112.1 1329.7 L1109.6 1330 L1107.6 1328.9 L1106.6 1326.8M1126.4 1311.6 L1124.1 1312.4 L1122.9 1314.3 L1122.9 1317 L1124.1 1319.2 L1126.4 1320.1 L1128.8 1321.1 L1130.4 1323.5 L1130.6 1326.2 L1129.6 1328.7 L1127.6 1329.9 L1125.2 1329.9 L1123.2 1328.7 L1122.2 1326.2 L1122.4 1323.5 L1124 1321.1 L1126.4 1320.1 L1128.7 1319.2 L1129.9 1317 L1129.9 1314.3 L1128.7 1312.4 L1126.4 1311.6M1141.9 1311.6 L1139.6 1312.7 L1138.1 1316 L1137.7 1320.8 L1138.1 1325.7 L1139.6 1328.9 L1141.9 1330 L1144.1 1328.9 L1145.7 1325.7 L1146.1 1320.8 L1145.7 1316 L1144.1 1312.7 L1141.9 1311.6"/>
<!-- p10_headK.py -->
<path class="d2" d="M67.5 897C68.1 895 69.2 888.7 71.2 885C73.3 881.3 75.6 878 80 875C84.4 872 94.6 868.3 97.5 867"/>
<path class="d" d="M97.5 867 L150 834.5"/>
<path class="s" d="M150 834.5C151.7 833.9 155.8 830.5 160 830.8C164.2 831 170.6 834.1 175 836.2C179.4 838.4 184 840.8 186.2 843.8C188.5 846.7 186.5 851.5 188.8 853.8C191 856 196 857.4 200 857C204 856.6 210.4 852.2 212.5 851.2"/>
<path class="d" d="M67.5 897 L67.5 971.2"/>
<path class="d" d="M67.5 971.2 L110 996.2"/>
<path class="d2" d="M77.5 901.2 L115 922.5"/>
<path class="s" d="M110 996.2C110.5 997.9 112.2 1003.3 113 1006.2C113.8 1009.2 112.6 1010.8 115 1013.8C117.4 1016.7 124.5 1021.8 127.5 1023.8C130.5 1025.7 132.1 1025.2 133 1025.5"/>
<path class="d" d="M133 1025.5 L133 935"/>
<path class="d" d="M138 935 L138 995"/>
<path class="d2" d="M133 1025.5 L150 1015"/>
<path class="d" d="M143.8 1020 L180 1040"/>
<path class="d" d="M152.5 1022.5 L262.5 1082.5"/>
<ellipse class="s" cx="153.8" cy="873.8" rx="42" ry="23"/>
<ellipse class="s" cx="154.5" cy="875" rx="38" ry="20"/>
<path class="s" d="M121.4 881.1 L122 879.3 L123.1 877.4 L124.6 875.6 L126.6 874 L129 872.5 L131.8 871.1 L134.9 869.9 L138.3 868.9 L142 868.1 L145.8 867.5 L149.7 867.1 L153.8 867 L157.8 867.1 L161.7 867.5 L165.5 868.1 L169.2 868.9 L172.6 869.9 L175.7 871.1 L178.5 872.5 L180.9 874 L182.9 875.6 L184.4 877.4 L185.5 879.3 L186.1 881.1"/>
<path class="s" d="M130.4 886.8 L131.1 885.5 L132 884.3 L133.3 883.1 L134.9 882 L136.8 881 L138.9 880.1 L141.3 879.4 L143.8 878.7 L146.4 878.2 L149.2 877.8 L152.1 877.6 L155 877.5 L157.9 877.6 L160.8 877.8 L163.6 878.2 L166.2 878.7 L168.7 879.4 L171.1 880.1 L173.2 881 L175.1 882 L176.7 883.1 L178 884.3 L178.9 885.5 L179.6 886.8"/>
<path class="s" d="M178.8 877.5 L178.8 890"/>
<path class="s" d="M97.5 867.5C99.2 869.2 103.3 872.1 107.5 877.5C111.7 882.9 117.3 892.5 122.5 900C127.7 907.5 136 918.8 138.8 922.5"/>
<path class="s" d="M96.2 871.2C99.4 876 108.3 890.2 115 900C121.7 909.8 132.7 925 136.2 930"/>
<path class="s" d="M102.5 910C103.3 908.3 105.4 902.5 107.5 900C109.6 897.5 113.8 895.8 115 895"/>
<path class="s" d="M115 895C115.8 896.2 118.8 899.2 120 902.5C121.2 905.8 122.1 912.9 122.5 915"/>
<path class="s" d="M120 920 L135 932.5"/>
<path class="s" d="M122.5 917.5 L138.8 930"/>
<path class="s" d="M126.2 920 L130 927.5"/>
<path class="s" d="M72.5 882.5 L97.5 867.5"/>
<path class="s" d="M98.8 866.2 L112.5 875"/>
<ellipse class="s" cx="155.5" cy="843.8" rx="5" ry="2.5"/>
<ellipse class="s" cx="203.8" cy="875" rx="4.5" ry="2.5"/>
<ellipse class="s" cx="133.8" cy="898" rx="4.5" ry="2.5"/>
<ellipse class="s" cx="155" cy="915" rx="15" ry="8.8"/>
<ellipse class="s" cx="155" cy="915" rx="10" ry="5.8"/>
<ellipse class="s" cx="155" cy="914.5" rx="6.5" ry="3.5"/>
<ellipse class="s" cx="195" cy="915" rx="10.5" ry="6.2"/>
<path class="d" d="M140 920 L140 995"/>
<path class="d" d="M170 920 L170 997.5"/>
<path class="d" d="M173.8 920 L173.8 997.5"/>
<path class="d" d="M178.8 920 L178.8 1035"/>
<path class="s" d="M136.2 995C137.7 996 141 1000.1 145 1001.2C149 1002.4 155.8 1002.6 160 1002C164.2 1001.4 168.3 998.2 170 997.5"/>
<path class="s" d="M155 1002 L155 1011.2"/>
<path class="s" d="M158.8 1006.2 L158.8 1012.5"/>
<ellipse class="s" cx="120.5" cy="937" rx="4.2" ry="6" transform="rotate(-20 120.5 937)"/>
<ellipse class="s" cx="120.5" cy="1008.8" rx="4.2" ry="6" transform="rotate(-20 120.5 1008.8)"/>
<ellipse class="s" cx="226.2" cy="847" rx="12.5" ry="7"/>
<ellipse class="s" cx="226.2" cy="847" rx="10.5" ry="5.5"/>
<ellipse class="s" cx="226.2" cy="860" rx="15.5" ry="8"/>
<path class="s" d="M213.8 847 L213.8 858.8"/>
<path class="s" d="M238.8 847 L238.8 858.8"/>
<path class="s" d="M238.8 858.8 L238.6 859.7 L238.3 860.6 L237.8 861.4 L237.1 862.2 L236.2 863 L235.1 863.7 L233.9 864.3 L232.5 864.8 L231 865.2 L229.5 865.5 L227.9 865.7 L226.2 865.8 L224.6 865.7 L223 865.5 L221.5 865.2 L220 864.8 L218.6 864.3 L217.4 863.7 L216.3 863 L215.4 862.2 L214.7 861.4 L214.2 860.6 L213.9 859.7 L213.8 858.8"/>
<path class="d2" d="M237.5 835 L252.5 826.2"/>
<path class="s" d="M240 842.5C242.1 842.9 249 843.8 252.5 845C256 846.2 261.2 848.1 261.2 850C261.2 851.9 256 855 252.5 856.2C249 857.5 242.1 857.3 240 857.5"/>
<path class="d2" d="M190 852.5 L173.8 842.5"/>
<path class="d" d="M175 920 L262.5 963.8"/>
<path class="d" d="M262.5 963.8 L262.5 1082.5"/>
<path class="d2" d="M196.2 925 L196.2 947.5"/>
<path class="d2" d="M200 927.5 L200 947.5"/>
<path class="d" d="M266.2 980 L266.2 1082.5"/>
<path class="d" d="M281.2 975 L281.2 1045"/>
<path class="d" d="M285 975 L285 1045"/>
<path class="s" d="M185 957.5C185 970 184.2 1018.8 185 1032.5C185.8 1046.2 187.5 1038.1 190 1040C192.5 1041.9 197.3 1044.2 200 1043.8C202.7 1043.3 204.8 1040 206.2 1037.5C207.7 1035 207.3 1030.2 208.8 1028.8C210.2 1027.3 212.7 1027.3 215 1028.8C217.3 1030.2 218.8 1034.4 222.5 1037.5C226.2 1040.6 233.8 1044.2 237.5 1047.5C241.2 1050.8 243.3 1053.8 245 1057.5C246.7 1061.2 245.4 1066.7 247.5 1070C249.6 1073.3 255 1076.7 257.5 1077.5C260 1078.3 261.7 1075.4 262.5 1075"/>
<path class="s" d="M185 957.5C185.4 956 185.8 950.6 187.5 948.8C189.2 946.9 192.5 946 195 946.2C197.5 946.5 200.3 947.7 202.5 950C204.7 952.3 207.1 958.3 208 960"/>
<path class="s" d="M208 960C207.7 964.2 205.5 979.8 206.2 985C207 990.2 209.6 990.6 212.5 991.2C215.4 991.9 221 991 223.8 988.8C226.5 986.5 226.5 979.5 228.8 977.5C231 975.5 232.7 976 237.5 977C242.3 978 253.3 981.2 257.5 983.8C261.7 986.3 261.7 991 262.5 992.5"/>
<path class="s" d="M205 962.5C204.8 966.5 202.5 981 203.8 986.2C205 991.5 209 992.9 212.5 993.8C216 994.6 222.9 991.7 225 991.2"/>
<path class="s" d="M181.2 957.5 L181.2 1035"/>
<ellipse class="s" cx="195" cy="963" rx="4" ry="5.8" transform="rotate(-20 195 963)"/>
<ellipse class="s" cx="240" cy="997.5" rx="4" ry="6.2" transform="rotate(-20 240 997.5)"/>
<ellipse class="s" cx="253.8" cy="996.2" rx="4" ry="5.8" transform="rotate(-20 253.8 996.2)"/>
<ellipse class="s" cx="195" cy="1031.2" rx="4" ry="6" transform="rotate(-20 195 1031.2)"/>
<ellipse class="s" cx="253.8" cy="1065" rx="4" ry="6.2" transform="rotate(-20 253.8 1065)"/>
<ellipse class="s" cx="224.5" cy="1017.5" rx="11.2" ry="19.5" transform="rotate(-25 224.5 1017.5)"/>
<ellipse class="s" cx="225" cy="1017.5" rx="10" ry="18" transform="rotate(-25 225 1017.5)"/>
<path class="s" d="M237.5 975 L257.5 981.2"/>
<path class="s" d="M240 972.5 L260 980"/>
<path class="s" d="M257.5 981.2 L260 987.5"/>
<path class="d2" d="M263.8 831.2C265.2 830 269.8 827.3 272.5 823.8C275.2 820.2 276.2 813.8 280 810C283.8 806.2 292.5 802.7 295 801.2"/>
<path class="s" d="M278.8 813.8C279.6 815.4 281.9 821.5 283.8 823.8C285.6 826 289 826.9 290 827.5"/>
<path class="s" d="M263.8 831.2C264.8 832.3 267.3 836.9 270 837.5C272.7 838.1 276.7 836.7 280 835C283.3 833.3 288.3 828.8 290 827.5"/>
<ellipse class="s" cx="302.5" cy="816.2" rx="10" ry="6"/>
<path class="d2" d="M252.5 826.2 L265 831.2"/>
<ellipse class="s" cx="312.5" cy="835" rx="13" ry="7"/>
<ellipse class="s" cx="312.5" cy="835" rx="11" ry="5.5"/>
<ellipse class="s" cx="312.5" cy="847.5" rx="15.5" ry="7.5"/>
<path class="s" d="M300 835 L300 846.2"/>
<path class="s" d="M325 835 L325 846.2"/>
<path class="s" d="M325 846.2 L324.9 847.2 L324.6 848.1 L324 848.9 L323.3 849.8 L322.4 850.5 L321.3 851.2 L320.1 851.8 L318.8 852.3 L317.3 852.7 L315.7 853 L314.1 853.2 L312.5 853.2 L310.9 853.2 L309.3 853 L307.7 852.7 L306.2 852.3 L304.9 851.8 L303.7 851.2 L302.6 850.5 L301.7 849.8 L301 848.9 L300.4 848.1 L300.1 847.2 L300 846.2"/>
<path class="d" d="M230 885 L287.5 852.5"/>
<path class="d2" d="M230 885 L226.2 910"/>
<path class="d2" d="M287.5 852.5 L287.5 870"/>
<path class="d2" d="M297.5 852.5 L297.5 870"/>
<path class="d2" d="M305 855 L305 870"/>
<ellipse class="s" cx="292.5" cy="886.2" rx="17.5" ry="9.5"/>
<ellipse class="s" cx="292.5" cy="886.2" rx="14.5" ry="7.5"/>
<ellipse class="s" cx="298.8" cy="922" rx="25" ry="13.8"/>
<ellipse class="s" cx="298.8" cy="922" rx="22" ry="11.5"/>
<ellipse class="s" cx="298.8" cy="922" rx="18.8" ry="9.5"/>
<ellipse class="s" cx="262.5" cy="910.5" rx="10.5" ry="6"/>
<ellipse class="s" cx="262.5" cy="910.5" rx="5.5" ry="3"/>
<ellipse class="s" cx="266.2" cy="900" rx="7" ry="3.5"/>
<ellipse class="s" cx="266.2" cy="942" rx="8.8" ry="5"/>
<ellipse class="s" cx="266.2" cy="942" rx="5" ry="2.8"/>
<ellipse class="s" cx="287.5" cy="943" rx="6" ry="3.5"/>
<path class="s" d="M252 910.5 L252 930"/>
<path class="s" d="M273 910.5 L273 930"/>
<path class="s" d="M252 930C252.9 930.8 254 935 257.5 935C261 935 270.4 930.8 273 930"/>
<path class="s" d="M226.2 910C226.9 912.1 227.7 918.8 230 922.5C232.3 926.2 236.2 929.6 240 932.5C243.8 935.4 250.4 938.8 252.5 940"/>
<path class="s" d="M225 905C225.8 904.2 228.3 900.2 230 900C231.7 899.8 234.2 903.1 235 903.8"/>
<path class="s" d="M232.5 922.5 L232.5 932.5 L240 932.5"/>
<path class="s" d="M237.5 925 L237.5 932.5"/>
<path class="s" d="M260 890C260.8 888.8 262.5 884.6 265 882.5C267.5 880.4 273.3 878.3 275 877.5"/>
<path class="s" d="M250 900C250.8 898.8 252.5 894.2 255 892.5C257.5 890.8 263.3 890.4 265 890"/>
<path class="s" d="M260 890 L272.5 895"/>
<path class="s" d="M275 900 L290 902.5"/>
<path class="s" d="M308.8 895 L320 882.5"/>
<path class="s" d="M311.2 897.5 L322.5 885"/>
<path class="s" d="M315 880 L315 900"/>
<path class="s" d="M322.5 880C323.3 880.8 325.9 883.3 327.5 885C329.1 886.7 331.2 889.2 332 890"/>
<ellipse class="s" cx="332" cy="910" rx="5" ry="5"/>
<ellipse class="s" cx="280" cy="963.8" rx="10.5" ry="6"/>
<path class="s" d="M300 945C301.7 945.8 307.9 947.5 310 950C312.1 952.5 312.1 958.3 312.5 960"/>
<path class="s" d="M313.8 955 L313.8 985"/>
<path class="s" d="M315 950C316.2 950.8 319.7 954.6 322.5 955C325.3 955.4 330.4 952.9 332 952.5"/>
<path class="s" d="M286.2 1000C286.9 998.3 287.7 992.5 290 990C292.3 987.5 295.8 985 300 985C304.2 985 310.4 986.2 315 990C319.6 993.8 325.4 1004.6 327.5 1007.5"/>
<path class="s" d="M290 1000C290.8 998.8 292.9 994.2 295 992.5C297.1 990.8 299.2 989.6 302.5 990C305.8 990.4 311.2 991.7 315 995C318.8 998.3 323.3 1007.5 325 1010"/>
<path class="s" d="M325 1010 L325 1035"/>
<ellipse class="s" cx="325" cy="1042" rx="2.5" ry="4"/>
<path class="d2" d="M273.8 1047.5 L273.8 1070"/>
<path class="d2" d="M273.8 1070 L290 1080"/>
<path class="d2" d="M290 1080C291.7 1080.8 297.7 1082.1 300 1085C302.3 1087.9 303.1 1095.4 303.8 1097.5"/>
<path class="d2" d="M273.8 1047.5 L290 1057.5"/>
<!-- p11_headJ.py -->
<path class="d" d="M334.5 827.5 L377 801.2"/>
<path class="d2" d="M334.5 827.5 L334.5 865"/>
<path class="s" d="M337 862.5 L367 880"/>
<path class="s" d="M335.8 830 L364.5 846.2"/>
<path class="s" d="M364.5 846.2 L364.5 872.5"/>
<ellipse class="s" cx="410.8" cy="816.2" rx="19.5" ry="12"/>
<ellipse class="s" cx="410.8" cy="816.2" rx="15.5" ry="9"/>
<ellipse class="s" cx="414.5" cy="853.8" rx="26.2" ry="15.5"/>
<ellipse class="s" cx="414.5" cy="853.8" rx="22.5" ry="13"/>
<ellipse class="s" cx="414.5" cy="854.5" rx="18.8" ry="10.5"/>
<ellipse class="s" cx="397" cy="884.5" rx="12.5" ry="7.5"/>
<ellipse class="s" cx="397" cy="884.5" rx="10" ry="5.8"/>
<ellipse class="s" cx="397" cy="884.5" rx="7.5" ry="4.2"/>
<ellipse class="s" cx="395.8" cy="896.2" rx="16.2" ry="7.5"/>
<path class="s" d="M410.8 900 L410.6 900.9 L410.2 901.8 L409.6 902.7 L408.7 903.5 L407.7 904.3 L406.4 904.9 L404.9 905.6 L403.2 906.1 L401.5 906.5 L399.6 906.8 L397.7 906.9 L395.8 907 L393.8 906.9 L391.9 906.8 L390 906.5 L388.2 906.1 L386.6 905.6 L385.1 904.9 L383.8 904.3 L382.8 903.5 L381.9 902.7 L381.3 901.8 L380.9 900.9 L380.8 900"/>
<path class="s" d="M384.5 886.2 L384.5 897.5"/>
<path class="s" d="M409.5 886.2 L409.5 897.5"/>
<ellipse class="s" cx="378.2" cy="843.8" rx="7.5" ry="4.5"/>
<ellipse class="s" cx="378.2" cy="843.8" rx="3.8" ry="2.2"/>
<ellipse class="s" cx="450.8" cy="842.5" rx="7.5" ry="4.5"/>
<ellipse class="s" cx="450.8" cy="843" rx="3.8" ry="2.2"/>
<ellipse class="s" cx="379.5" cy="884.5" rx="7" ry="4"/>
<ellipse class="s" cx="378.2" cy="885" rx="3.8" ry="2.2"/>
<ellipse class="s" cx="478.2" cy="848" rx="6.2" ry="3.8"/>
<ellipse class="s" cx="478.2" cy="848" rx="3.2" ry="2"/>
<ellipse class="s" cx="455.8" cy="878.8" rx="6.2" ry="3.8"/>
<ellipse class="s" cx="455.8" cy="878.8" rx="3" ry="1.8"/>
<ellipse class="s" cx="467" cy="885" rx="3.8" ry="2.5"/>
<ellipse class="s" cx="495" cy="877.5" rx="9.5" ry="6"/>
<ellipse class="s" cx="334.5" cy="911.2" rx="6.2" ry="3.8"/>
<ellipse class="s" cx="334.5" cy="911.2" rx="3" ry="1.8"/>
<ellipse class="s" cx="361.5" cy="915" rx="6.2" ry="3.8"/>
<ellipse class="s" cx="361.5" cy="915" rx="3.2" ry="1.8"/>
<ellipse class="s" cx="338.2" cy="947.5" rx="6.2" ry="3.8"/>
<ellipse class="s" cx="338.2" cy="947.5" rx="3" ry="1.8"/>
<ellipse class="s" cx="350" cy="952.5" rx="3.8" ry="2.5"/>
<ellipse class="s" cx="378.2" cy="945.5" rx="9.5" ry="6"/>
<ellipse class="s" cx="382" cy="832.5" rx="7" ry="3.8"/>
<ellipse class="s" cx="382.5" cy="862.5" rx="5.5" ry="3.2"/>
<ellipse class="s" cx="382" cy="900" rx="5.5" ry="3.2"/>
<ellipse class="s" cx="447" cy="862.5" rx="4.5" ry="3"/>
<path class="s" d="M534.4 882.6 L532.7 883.8 L530.7 884.7 L528.4 885.3 L526.1 885.5 L523.7 885.4 L521.4 884.9 L519.4 884.1 L517.6 883 L516.1 881.7 L515.1 880.1 L514.6 878.5 L514.5 876.8 L515 875.1 L515.9 873.6 L517.3 872.2 L519 871.1 L521.1 870.2 L523.3 869.7 L525.7 869.5 L528 869.7 L530.3 870.2 L532.3 871 L534.1 872.1 L535.5 873.5"/>
<path class="s" d="M416.6 941.8 L417.3 942.9 L417.8 944.1 L418 945.3 L417.9 946.6 L417.5 947.8 L416.8 949 L415.9 950 L414.7 951 L413.3 951.7 L411.8 952.3 L410.1 952.8 L408.4 953 L406.7 953 L404.9 952.8 L403.3 952.4 L401.7 951.8 L400.4 951 L399.2 950.1 L398.2 949 L397.5 947.9 L397.1 946.6 L397 945.4 L397.2 944.1 L397.6 942.9"/>
<path class="s" d="M389.5 817.5C388.2 818.3 384.1 820.4 382 822.5C379.9 824.6 378.7 827.7 377 830C375.3 832.3 372.8 835.2 372 836.2"/>
<path class="s" d="M432 817.5C432.8 818.8 435.3 822.5 437 825C438.7 827.5 441.2 831.2 442 832.5"/>
<path class="s" d="M390.8 805C392.2 804.4 396 802.1 399.5 801.2C403 800.4 407.8 799.6 412 800C416.2 800.4 421.4 801.9 424.5 803.8C427.6 805.6 429.7 810 430.8 811.2"/>
<path class="s" d="M388.2 852.5C388 854.2 386.4 859.6 387 862.5C387.6 865.4 389.1 868.1 392 870C394.9 871.9 399.1 873.3 404.5 873.8C409.9 874.2 419.1 874 424.5 872.5C429.9 871 434.3 867.9 437 865C439.7 862.1 440.1 856.7 440.8 855"/>
<path class="s" d="M367 843.8C367 845.2 365.8 850.5 367 852.5C368.2 854.5 371 855.5 374.5 855.5C378 855.5 386 853 388.2 852.5"/>
<path class="s" d="M439.5 843.8C439.9 845.2 439.9 850.5 442 852.5C444.1 854.5 448.2 855.9 452 855.5C455.8 855.1 462 852.2 464.5 850C467 847.8 466.6 843.8 467 842.5"/>
<path class="s" d="M367 885C367.2 886.2 366.6 890.8 368.2 892.5C369.9 894.2 374.5 895 377 895C379.5 895 382.2 892.9 383.2 892.5"/>
<path class="s" d="M385.8 860 L385.8 867.5 L393.2 870"/>
<path class="s" d="M437 858.8 L444.5 861.2 L444.5 865 L437 865"/>
<path class="s" d="M352 872.5 L352 887.5 L364.5 895"/>
<path class="s" d="M354.5 875 L379.5 847.5"/>
<path class="s" d="M357.5 877.5 L382 851.2"/>
<path class="s" d="M422 822.5 L432 812.5"/>
<path class="s" d="M424.5 825 L435.8 815"/>
<path class="s" d="M419.5 830 L427 833.8"/>
<path class="s" d="M435.8 805 L435.8 817.5"/>
<path class="s" d="M432 803.8 L439.5 815"/>
<path class="s" d="M442 810 L448.2 813.8"/>
<path class="s" d="M452 813.8 L452 822.5"/>
<path class="s" d="M459.5 817.5 L459.5 826.2"/>
<path class="s" d="M469.5 822.5 L469.5 831.2"/>
<path class="s" d="M477 827.5 L477 833.8"/>
<path class="s" d="M482 831.2 L489.5 835"/>
<path class="s" d="M492 837.5 L492 845"/>
<path class="s" d="M499.5 841.2 L499.5 848.8"/>
<path class="s" d="M502 851.2 L518.2 852.5"/>
<path class="s" d="M310.8 970C310.5 968.8 308.7 965.8 309.5 962.5C310.3 959.2 314.5 953.8 315.8 950C317 946.2 315.5 944.2 317 940C318.5 935.8 323.7 930 324.5 925C325.3 920 321.6 914.2 322 910C322.4 905.8 323.7 901.7 327 900C330.3 898.3 337.8 898.8 342 900C346.2 901.2 347.8 906.5 352 907.5C356.2 908.5 362.4 905.4 367 906.2C371.6 907.1 376.4 909.8 379.5 912.5C382.6 915.2 386 919.6 385.8 922.5C385.5 925.4 379.9 927.5 378.2 930C376.6 932.5 373.5 935.8 375.8 937.5C378 939.2 388.5 937.9 392 940C395.5 942.1 394.1 947.9 397 950C399.9 952.1 406.2 952.9 409.5 952.5C412.8 952.1 414.1 947.9 417 947.5C419.9 947.1 423.2 950.8 427 950C430.8 949.2 436.6 945.8 439.5 942.5C442.4 939.2 442.4 934.6 444.5 930C446.6 925.4 449.9 918.3 452 915C454.1 911.7 454.5 910.8 457 910C459.5 909.2 462.8 909.2 467 910C471.2 910.8 475.3 915 482 915C488.7 915 502 912.5 507 910C512 907.5 511.6 903.3 512 900C512.4 896.7 512 892.1 509.5 890C507 887.9 501.6 887.7 497 887.5C492.4 887.3 485.8 887.9 482 888.8C478.2 889.6 476.4 890.6 474.5 892.5C472.6 894.4 474.5 898.8 470.8 900C467 901.2 457.6 900.8 452 900C446.4 899.2 439.9 897.5 437 895C434.1 892.5 434.1 887.9 434.5 885C434.9 882.1 436.6 879.6 439.5 877.5C442.4 875.4 447.4 873.3 452 872.5C456.6 871.7 462 873.8 467 872.5C472 871.2 477.8 866.7 482 865C486.2 863.3 489.1 864.6 492 862.5C494.9 860.4 497.8 855.6 499.5 852.5C501.2 849.4 503.2 846.2 502 843.8C500.8 841.2 496.2 838.5 492 837.5C487.8 836.5 481.2 836.7 477 837.5C472.8 838.3 469.1 842.9 467 842.5C464.9 842.1 466.6 837.1 464.5 835C462.4 832.9 457.8 830.6 454.5 830C451.2 829.4 447 830 444.5 831.2C442 832.5 440.3 836.5 439.5 837.5"/>
<path class="s" d="M322 940C323.2 942.1 326.2 950 329.5 952.5C332.8 955 337.4 955 342 955C346.6 955 352.8 952.1 357 952.5C361.2 952.9 362.8 956.9 367 957.5C371.2 958.1 377.8 955.4 382 956.2C386.2 957.1 389.9 960.2 392 962.5C394.1 964.8 395.3 967.9 394.5 970C393.7 972.1 388.2 974.2 387 975"/>
<path class="s" d="M432 885C431.8 887.5 430.3 895 430.8 900C431.2 905 432.6 911.7 434.5 915C436.4 918.3 440.8 919.2 442 920"/>
<path class="s" d="M472 900C472.2 901.7 471.6 907.5 473.2 910C474.9 912.5 480.5 914.2 482 915"/>
<path class="s" d="M374.5 930C375.1 928.8 376.6 924.2 378.2 922.5C379.9 920.8 383.5 920.4 384.5 920"/>
<path class="s" d="M397 950C397.8 948.3 399.5 942.1 402 940C404.5 937.9 409.1 936.7 412 937.5C414.9 938.3 418.2 943.8 419.5 945"/>
<path class="d2" d="M332 955 L332 987.5"/>
<path class="d2" d="M338.2 955 L338.2 988.8"/>
<path class="d2" d="M344.5 960 L344.5 990"/>
<path class="d2" d="M353.2 962.5 L353.2 987.5"/>
<path class="d2" d="M358.2 957.5 L358.2 985"/>
<path class="d2" d="M367 960 L367 982.5"/>
<path class="d2" d="M374.5 960 L374.5 980"/>
<path class="d2" d="M382 962.5 L382 977.5"/>
<path class="d2" d="M449.5 890 L449.5 907.5"/>
<path class="d2" d="M457 887.5 L457 907.5"/>
<path class="d2" d="M470.8 902.5 L470.8 930"/>
<path class="d2" d="M482 895 L482 907.5"/>
<path class="d2" d="M489.5 895 L489.5 907.5"/>
<path class="d2" d="M497 890 L497 905"/>
<path class="s" d="M310.8 970 L310.8 982.5"/>
<path class="s" d="M310.8 982.5C312.2 983.3 316 986.2 319.5 987.5C323 988.8 329.9 989.6 332 990"/>
<path class="s" d="M332 990 L387 975"/>
<ellipse class="s" cx="454.5" cy="937.5" rx="5.5" ry="15.5" transform="rotate(-8 454.5 937.5)"/>
<ellipse class="s" cx="454" cy="937.5" rx="3.8" ry="13" transform="rotate(-8 454 937.5)"/>
<ellipse class="s" cx="455.8" cy="937.5" rx="5.5" ry="15.5" transform="rotate(-8 455.8 937.5)"/>
<path class="d2" d="M467 920 L474.5 950"/>
<path class="d2" d="M480.8 915 L480.8 950"/>
<path class="d2" d="M507 910 L507 940"/>
<path class="s" d="M464.5 950C465.8 949.4 469.1 946.2 472 946.2C474.9 946.2 478.7 949 482 950C485.3 951 490.3 952.1 492 952.5"/>
<path class="s" d="M292 988.8 L303.2 990.5"/>
<path class="s" d="M302 990C303.7 991.2 308.7 993.3 312 997.5C315.3 1001.7 319.1 1009.6 322 1015C324.9 1020.4 328.2 1027.5 329.5 1030"/>
<path class="s" d="M297 992.5C299.1 994.2 305.8 997.9 309.5 1002.5C313.2 1007.1 316.8 1014.8 319.5 1020C322.2 1025.2 324.7 1031.5 325.8 1033.8"/>
<path class="d" d="M333.2 1002.5 L333.2 1112.5"/>
<path class="d" d="M343.2 1002.5 L343.2 1107.5"/>
<path class="d" d="M343.2 1002.5 L442 946.2"/>
<path class="d" d="M292 1058.8 L332 1077.5"/>
<path class="d" d="M292 1036.2 L322 1050"/>
<path class="s" d="M322 1030 L332 1037.5 L343.2 1040"/>
<ellipse class="s" cx="324.5" cy="1042.5" rx="2.5" ry="4.5" transform="rotate(-20 324.5 1042.5)"/>
<path class="d2" d="M437 955 L447 985"/>
<path class="d2" d="M444.5 952.5 L454.5 980"/>
<path class="d" d="M447 982.5 L509.5 950"/>
<path class="d" d="M452 988.8 L507 958.8"/>
<path class="d2" d="M402 1010 L424.5 997.5"/>
<path class="d2" d="M402 1010 L409.5 1016.2"/>
<ellipse class="s" cx="522" cy="962.5" rx="5" ry="3.2"/>
<path class="s" d="M528 969 L525.9 969.6 L523.6 969.9 L521.2 970 L518.9 969.7 L516.7 969.2 L514.7 968.5 L513 967.4 L511.6 966.2 L510.6 964.9 L510.1 963.5 L510 962 L510.4 960.6 L511.2 959.2 L512.5 957.9 L514.1 956.9 L516 956 L518.1 955.4 L520.4 955.1 L522.8 955 L525.1 955.3 L527.3 955.8 L529.3 956.5 L531 957.6 L532.4 958.8"/>
<path class="d" d="M532 965 L584 992.5"/>
<path class="d" d="M522 972.5 L567 997.5"/>
<path class="d" d="M533.2 952.5 L584 925"/>
<path class="d" d="M527 942.5 L584 912.5"/>
<path class="s" d="M532 960 L532 952.5 L547 950"/>
<path class="d2" d="M547 1000 L547 1030"/>
<path class="d2" d="M554.5 1035 L554.5 1060"/>
<path class="s" d="M547 1000C546.2 1002.5 544.5 1010 542 1015C539.5 1020 534.9 1026.2 532 1030C529.1 1033.8 525.8 1036.2 524.5 1037.5"/>
<ellipse class="s" cx="514" cy="940" rx="7" ry="3.8"/>
<path class="s" d="M507.5 941.2 L507.5 950"/>
<path class="s" d="M520.8 941.2 L520.8 950"/>
<path class="s" d="M521 950 L520.9 950.5 L520.8 950.9 L520.5 951.3 L520.1 951.8 L519.6 952.1 L518.9 952.5 L518.3 952.8 L517.5 953 L516.7 953.2 L515.8 953.4 L514.9 953.5 L514 953.5 L513.1 953.5 L512.2 953.4 L511.3 953.2 L510.5 953 L509.7 952.8 L509.1 952.5 L508.4 952.1 L507.9 951.8 L507.5 951.3 L507.2 950.9 L507.1 950.5 L507 950"/>
<path class="s" d="M502 955 L524.5 943.8"/>
<path class="t" d="M424.5 1010 L504.5 1057.5"/>
<path class="t" d="M427 1015 L504.5 1062"/>
<path class="t" d="M424.5 1002.5 L424.5 1010"/>
<ellipse class="m" cx="437.5" cy="995.5" rx="12" ry="7.5"/>
<ellipse class="m" cx="437.5" cy="995.5" rx="7.5" ry="4.5"/>
<path class="m" d="M448.8 1002.6 L448.3 1003.3 L447.6 1004 L446.9 1004.7 L446 1005.3 L445 1005.8 L443.9 1006.3 L442.8 1006.7 L441.6 1007 L440.4 1007.3 L439.1 1007.4 L437.8 1007.5 L436.5 1007.5 L435.2 1007.4 L433.9 1007.2 L432.7 1006.9 L431.5 1006.5 L430.4 1006 L429.4 1005.5 L428.5 1004.9 L427.7 1004.3 L427 1003.6 L426.4 1002.9 L426 1002.1 L425.7 1001.3"/>
<path class="s" d="M452 987.5C454.5 986.7 462 983.3 467 982.5C472 981.7 477.8 981.7 482 982.5C486.2 983.3 488.2 986.2 492 987.5C495.8 988.8 502.4 989.6 504.5 990"/>
<path class="s" d="M482 982.5 L482 990 L492 995"/>
<path class="s" d="M504.5 990 L504.5 1005"/>
<path class="s" d="M458.2 1015C458.9 1013.8 460.5 1009.2 462 1007.5C463.5 1005.8 466.2 1005.4 467 1005"/>
<path class="m" d="M459.5 997.5 L459.5 1015"/>
<path class="d2" d="M470.8 1005 L470.8 1025"/>
<path class="d2" d="M477 1007.5 L477 1027.5"/>
<path class="s" d="M472 1025C474.5 1023.3 482.4 1018.8 487 1015C491.6 1011.2 496.4 1006.7 499.5 1002.5C502.6 998.3 504.7 992.1 505.8 990"/>
<path class="s" d="M474.5 1030C477 1028.3 484.9 1023.8 489.5 1020C494.1 1016.2 499.9 1009.6 502 1007.5"/>
<path class="s" d="M447 992.5 L457 987.5"/>
<path class="s" d="M449.5 997.5 L459.5 992.5"/>
<path class="s" d="M524.5 1040 L557 1022.5"/>
<path class="t" d="M527 1052.5 L562 1035"/>
<path class="t" d="M524.5 1057.5 L549.5 1043.8"/>
<path class="s" d="M557 1022.5 L562 1035"/>
<path class="d" d="M562 1037.5 L584 1047.5"/>
<path class="d" d="M517 1065 L584 1030"/>
<ellipse class="s" cx="509.5" cy="1027.5" rx="7.5" ry="3.8"/>
<path class="s" d="M502 1027.5 L502 1036.2"/>
<path class="s" d="M517 1027.5 L517 1036.2"/>
<path class="s" d="M506.5 1030.5 L506.5 1037.5"/>
<path class="s" d="M513.2 1030.5 L513.2 1037.5"/>
<ellipse class="s" cx="510" cy="1038" rx="14.5" ry="6.5"/>
<path class="s" d="M500.8 1041.2 L500.8 1055.5"/>
<path class="s" d="M518.2 1041.2 L518.2 1055.5"/>
<path class="k" d="M500.8 1055.5 L518.2 1055.5 L518.2 1059.5 L500.8 1059.5 Z"/>
<path class="s" d="M507 1061.2 L507 1072.5"/>
<path class="s" d="M513.2 1061.2 L513.2 1072.5"/>
<path class="d" d="M345.8 1042.5 L392 1016.2"/>
<path class="s" d="M345.8 1042.5 L354.5 1048"/>
<path class="d" d="M354.5 1047.5 L452 1043"/>
<path class="s" d="M452 1043 L452 1050 L467 1053 L479.5 1041.2"/>
<path class="s" d="M367 1030 L369.5 1042.5"/>
<path class="s" d="M369.5 1028.8 L373.2 1041.2"/>
<path class="d" d="M354.5 1048 L417 1092.5"/>
<path class="d" d="M417 1092.5 L507 1065"/>
<ellipse class="s" cx="369.5" cy="1054.5" rx="7.5" ry="4.5"/>
<ellipse class="s" cx="472" cy="1062.5" rx="8" ry="5"/>
<ellipse class="s" cx="428.2" cy="1088" rx="8" ry="4.5"/>
<ellipse class="s" cx="391.5" cy="1086.2" rx="3" ry="5" transform="rotate(-15 391.5 1086.2)"/>
<path class="s" d="M378.2 1062.5C379.5 1060.8 381.4 1054.6 385.8 1052.5C390.1 1050.4 400.9 1048.8 404.5 1050C408.1 1051.2 407.9 1057 407.5 1060C407.1 1063 401 1066.7 402 1068C403 1069.3 410.2 1068.7 413.2 1068C416.2 1067.3 418.2 1063.3 420 1063.8C421.8 1064.2 425.7 1067.3 424 1070.5C422.3 1073.7 413.2 1081.8 410 1083C406.8 1084.2 404 1079.5 404.5 1077.5C405 1075.5 412.4 1072.3 413.2 1071.2C414.1 1070.2 413 1071.4 409.5 1071.2C406 1071.1 397.2 1072 392 1070.5C386.8 1069 380.5 1063.8 378.2 1062.5"/>
<path class="s" d="M382 1061.2C383 1060.1 384.9 1055.9 388.2 1054.5C391.6 1053.1 399.7 1053.2 402 1053"/>
<path class="s" d="M452 1055C452.8 1055.6 456 1056.7 457 1058.8C458 1060.8 457 1065.2 458.2 1067.5C459.5 1069.8 463.9 1070.8 464.5 1072.5C465.1 1074.2 463.7 1077.9 462 1077.5C460.3 1077.1 455.8 1072.9 454.5 1070C453.2 1067.1 454.5 1061.7 454.5 1060"/>
<path class="d2" d="M353.2 1050 L353.2 1115"/>
<path class="s" d="M417 1093.8 L417 1117.5"/>
<path class="d2" d="M439.5 1093.8 L439.5 1117.5"/>
<path class="s" d="M417 1117.5C418.7 1118.4 423.2 1123 427 1123C430.8 1123 436.2 1121.3 439.5 1117.5C442.8 1113.7 442.4 1105.4 447 1100C451.6 1094.6 460.3 1086.9 467 1085C473.7 1083.1 480.8 1089.2 487 1088.8C493.2 1088.3 499.5 1086.5 504.5 1082.5C509.5 1078.5 514.9 1067.9 517 1065"/>
<path class="s" d="M374.5 1128.8 L409.5 1115"/>
<path class="s" d="M377 1130 L409.5 1117.5"/>
<path class="s" d="M409.5 1115 L417 1118.8"/>
<path class="s" d="M325.8 1106.2 L342 1101.2"/>
<path class="s" d="M325.8 1106.2 L325.8 1115 L332 1117.5 L342 1111.2"/>
<path class="s" d="M335.8 1102.5 L335.8 1112.5"/>
<path class="s" d="M342 1101.2 L342 1111.2"/>
<path class="d2" d="M292 1100 L324.5 1115"/>
<path class="s" d="M292 1080C293.2 1081.2 297.6 1083.8 299.5 1087.5C301.4 1091.2 302.6 1100 303.2 1102.5"/>
<path class="d2" d="M484.5 1067.5 L484.5 1077.5"/>
<path class="s" d="M494.5 1065 L497 1072.5"/>
<!-- p12_coverN.py -->
<ellipse class="s" cx="763.8" cy="653.8" rx="19.5" ry="11"/>
<ellipse class="s" cx="763.8" cy="653.8" rx="15.5" ry="8.2"/>
<path class="s" d="M745 657.5C745.4 658.8 744.6 663 747.5 665C750.4 667 757.1 669.2 762.5 669.2C767.9 669.2 776.5 667 780 665C783.5 663 783.1 658.8 783.8 657.5"/>
<path class="s" d="M750 666.2C750.4 667.5 750 672.1 752.5 673.8C755 675.4 760.8 676.5 765 676.2C769.2 676 775 674.2 777.5 672.5C780 670.8 779.6 667.3 780 666.2"/>
<ellipse class="s" cx="802" cy="640.5" rx="5" ry="3"/>
<ellipse class="s" cx="830" cy="645" rx="6.2" ry="3.5"/>
<ellipse class="s" cx="830" cy="645" rx="3.5" ry="2"/>
<ellipse class="s" cx="732.5" cy="670.5" rx="7" ry="3.5"/>
<ellipse class="s" cx="732.5" cy="670.5" rx="3.5" ry="1.8"/>
<ellipse class="s" cx="730" cy="682.5" rx="7" ry="4"/>
<ellipse class="s" cx="730" cy="682.5" rx="3.5" ry="2"/>
<ellipse class="s" cx="746.2" cy="693.8" rx="9.5" ry="6"/>
<ellipse class="s" cx="806.2" cy="677" rx="6.2" ry="3.8"/>
<ellipse class="s" cx="806.2" cy="677" rx="3.2" ry="2"/>
<ellipse class="s" cx="818" cy="681.2" rx="3.5" ry="2.2"/>
<ellipse class="s" cx="845" cy="675.5" rx="9.5" ry="6"/>
<ellipse class="s" cx="866.2" cy="626.2" rx="11.8" ry="7.5"/>
<ellipse class="s" cx="866.2" cy="626.2" rx="8" ry="5"/>
<ellipse class="s" cx="883.8" cy="617.5" rx="5.5" ry="3.2"/>
<ellipse class="s" cx="923.8" cy="608.8" rx="6.2" ry="3.8"/>
<ellipse class="s" cx="923.8" cy="608.8" rx="3.2" ry="2"/>
<ellipse class="s" cx="935" cy="614.5" rx="3.8" ry="2.2"/>
<ellipse class="s" cx="726.2" cy="743.8" rx="9.5" ry="6"/>
<ellipse class="s" cx="765" cy="682.5" rx="7.5" ry="4.5"/>
<ellipse class="s" cx="760" cy="690" rx="6.2" ry="3.8"/>
<path class="s" d="M883 671.4 L884.1 672.5 L884.9 673.7 L885.3 674.9 L885.5 676.2 L885.3 677.6 L884.9 678.8 L884.1 680 L883 681.1 L881.7 682 L880.2 682.7 L878.6 683.3 L876.8 683.6 L875 683.8 L873.2 683.6 L871.4 683.3 L869.8 682.7 L868.3 682 L867 681.1 L865.9 680 L865.1 678.8 L864.7 677.6 L864.5 676.2 L864.7 674.9 L865.1 673.7"/>
<path class="s" d="M767.2 737.7 L768.3 738.8 L769.1 739.9 L769.6 741.2 L769.8 742.5 L769.6 743.8 L769.1 745.1 L768.3 746.2 L767.2 747.3 L765.8 748.2 L764.2 749 L762.5 749.5 L760.7 749.9 L758.8 750 L756.8 749.9 L755 749.5 L753.2 749 L751.7 748.2 L750.3 747.3 L749.2 746.2 L748.4 745.1 L747.9 743.8 L747.8 742.5 L747.9 741.2 L748.4 739.9"/>
<path class="s" d="M787.5 710C789.6 709.2 797.1 705 800 705C802.9 705 800.8 709.8 805 710C809.2 710.2 819.2 706.2 825 706.2C830.8 706.2 834.2 710.2 840 710C845.8 709.8 855.6 707.5 860 705C864.4 702.5 866.2 697.9 866.2 695C866.2 692.1 863.1 689.4 860 687.5C856.9 685.6 852.1 684.2 847.5 683.8C842.9 683.3 836.2 683.5 832.5 685C828.8 686.5 826.7 690.4 825 692.5C823.3 694.6 826.7 696.7 822.5 697.5C818.3 698.3 806.2 698.3 800 697.5C793.8 696.7 787.9 695.4 785 692.5C782.1 689.6 782.1 683.8 782.5 680C782.9 676.2 784.6 672.5 787.5 670C790.4 667.5 795.8 665.6 800 665C804.2 664.4 809.2 667.1 812.5 666.2C815.8 665.4 819.2 662.3 820 660C820.8 657.7 819.2 655 817.5 652.5C815.8 650 810 647.7 810 645C810 642.3 814.2 638.1 817.5 636.2C820.8 634.4 825.4 633.3 830 633.8C834.6 634.2 841.2 636.5 845 638.8C848.8 641 852.5 644.8 852.5 647.5C852.5 650.2 846.5 652.5 845 655C843.5 657.5 842.1 660.6 843.8 662.5C845.4 664.4 851.9 664.6 855 666.2C858.1 667.9 860.4 669.8 862.5 672.5C864.6 675.2 864.6 680.4 867.5 682.5C870.4 684.6 875.8 685.4 880 685C884.2 684.6 887.9 681.7 892.5 680C897.1 678.3 904.2 678.3 907.5 675C910.8 671.7 910.8 665 912.5 660C914.2 655 915.8 648.8 917.5 645C919.2 641.2 919.2 639.4 922.5 637.5C925.8 635.6 932.9 633.5 937.5 633.8C942.1 634 945.4 637.7 950 638.8C954.6 639.8 960.4 641 965 640C969.6 639 975.2 635.4 977.5 632.5C979.8 629.6 978.5 624.2 978.8 622.5"/>
<path class="s" d="M720 771.2C725 769.8 739.6 767.7 750 762.5C760.4 757.3 775 745.4 782.5 740C790 734.6 792.5 734 795 730C797.5 726 795.8 719.8 797.5 716.2C799.2 712.7 801.7 710.2 805 708.8C808.3 707.3 812.9 706.9 817.5 707.5C822.1 708.1 827.1 712.1 832.5 712.5C837.9 712.9 845 711.5 850 710C855 708.5 856.2 705.8 862.5 703.8C868.8 701.7 880 701 887.5 697.5C895 694 902.5 688.3 907.5 682.5C912.5 676.7 915.4 667.9 917.5 662.5C919.6 657.1 918.8 653.3 920 650C921.2 646.7 921.7 644.4 925 642.5C928.3 640.6 932.5 639 940 638.8C947.5 638.5 961.3 642.7 970 641.2C978.7 639.8 988.3 631.9 992 630"/>
<path class="s" d="M720 777.5C724.2 776.7 737.5 775.4 745 772.5C752.5 769.6 758.8 763.8 765 760C771.2 756.2 779.6 751.7 782.5 750"/>
<path class="s" d="M720 720C721.2 719.2 725.2 717.5 727.5 715C729.8 712.5 733.1 708.3 733.8 705C734.4 701.7 732.9 697.5 731.2 695C729.6 692.5 725 690.8 723.8 690"/>
<path class="s" d="M733.8 705C736.5 705.8 745.2 709.6 750 710C754.8 710.4 760 709.6 762.5 707.5C765 705.4 765.4 700.4 765 697.5C764.6 694.6 760.8 691.2 760 690"/>
<path class="s" d="M725 727.5C726.2 726.7 730 722.9 732.5 722.5C735 722.1 738.1 722.9 740 725C741.9 727.1 742.5 731.7 743.8 735C745 738.3 746.9 743.3 747.5 745"/>
<path class="s" d="M745 732.5C746.7 731.7 750 727.9 755 727.5C760 727.1 770.8 730.8 775 730C779.2 729.2 778.8 725 780 722.5C781.2 720 782.1 716.2 782.5 715"/>
<path class="s" d="M780 730C779.6 731.7 779.2 737.5 777.5 740C775.8 742.5 771.2 744.2 770 745"/>
<path class="s" d="M845 655C845.8 654.6 847.9 652.5 850 652.5C852.1 652.5 856.2 653.3 857.5 655C858.8 656.7 857.5 661.2 857.5 662.5"/>
<path class="s" d="M850 642.5C851.7 640.8 855.8 634 860 632.5C864.2 631 871.2 635 875 633.8C878.8 632.5 878.8 627.3 882.5 625C886.2 622.7 895 620.8 897.5 620"/>
<path class="s" d="M897.5 605C897.9 607.5 900 614.6 900 620C900 625.4 897.1 632.9 897.5 637.5C897.9 642.1 900.4 646.7 902.5 647.5C904.6 648.3 908.8 643.3 910 642.5"/>
<path class="s" d="M840 625C841.7 623.8 845.8 619.2 850 617.5C854.2 615.8 860 615.8 865 615C870 614.2 877.5 612.9 880 612.5"/>
<path class="s" d="M895 607.5C894.2 608.8 890.4 612.1 890 615C889.6 617.9 892.1 623.3 892.5 625"/>
<path class="s" d="M827.5 622.5 L833.8 622.5 L833.8 628.8"/>
<path class="s" d="M870 611.2 L875 615"/>
<path class="s" d="M872.5 610 L877.5 613.8"/>
<path class="s" d="M790 633.8 L810 640 L817.5 636.2"/>
<path class="s" d="M790 633.8 L796.2 655"/>
<path class="s" d="M810 640 L813.8 651.2"/>
<path class="s" d="M785 655C786.2 654.6 790.6 652.5 792.5 652.5C794.4 652.5 795.6 654.6 796.2 655"/>
<path class="s" d="M735 657.5 L745 662.5"/>
<path class="s" d="M735 657.5 L735 662.5 L743.8 666.2"/>
<path class="s" d="M722.5 655 L730 651.2"/>
<path class="s" d="M725 657.5 L732.5 653.8"/>
<path class="s" d="M737.5 650 L741.2 655"/>
<path class="s" d="M780 642.5 L787.5 646.2"/>
<path class="s" d="M782.5 660 L792.5 655"/>
<path class="s" d="M742.5 672.5 L750 680"/>
<path class="s" d="M757.5 675 L775 677.5"/>
<path class="s" d="M775 677.5 L777.5 690"/>
<path class="s" d="M822.5 690C823.8 687.9 825.4 684.6 830 683.8C834.6 682.9 845 684 850 685C855 686 858.2 688.1 860 690C861.8 691.9 862.2 694.4 860.5 696.2C858.8 698.1 855.1 700.4 850 701.2C844.9 702.1 834.6 702.1 830 701.2C825.4 700.4 823.8 698.1 822.5 696.2C821.2 694.4 821.2 692.1 822.5 690Z"/>
<path class="d2" d="M830 685 L830 700.5"/>
<path class="d2" d="M836.2 685 L836.2 700.5"/>
<path class="d2" d="M842.5 685 L842.5 700.5"/>
<path class="d2" d="M850 685 L850 700.5"/>
<path class="s" d="M940 622.5C941 620.6 942.5 618.3 947.5 617.5C952.5 616.7 964.9 616.5 970 617.5C975.1 618.5 977.6 621.5 978 623.8C978.4 626 977.2 629.6 972.5 631.2C967.8 632.9 955.2 634.2 950 633.8C944.8 633.3 942.9 630.6 941.2 628.8C939.6 626.9 939 624.4 940 622.5Z"/>
<path class="d2" d="M950 618 L950 633"/>
<path class="d2" d="M957.5 618 L957.5 633"/>
<path class="d2" d="M965 618 L965 633"/>
<path class="d2" d="M972.5 618 L972.5 633"/>
<path class="d2" d="M832.5 710 L832.5 752.5"/>
<path class="d2" d="M858.8 705 L858.8 750"/>
<path class="d2" d="M818.8 712.5 L822.5 742.5"/>
<path class="d2" d="M950 640 L950 682.5"/>
<path class="d2" d="M976.2 637.5 L976.2 685"/>
<path class="d2" d="M935 642.5 L940 677.5"/>
<path class="d2" d="M787.5 697.5 L787.5 710"/>
<path class="d2" d="M800 687.5 L800 697.5"/>
<path class="d2" d="M810 687.5 L810 697.5"/>
<path class="d2" d="M917.5 620 L917.5 632.5"/>
<path class="d2" d="M925 621.2 L925 633.8"/>
<path class="d2" d="M935 622.5 L935 633.8"/>
<path class="d2" d="M732.5 755 L732.5 770"/>
<path class="d2" d="M740 755 L740 767.5"/>
<path class="d2" d="M735 720 L740 730"/>
<path class="d2" d="M780 720 L780 740"/>
<path class="d" d="M741.2 772.5 L741.2 812.5"/>
<ellipse class="s" cx="805" cy="737.5" rx="5" ry="17" transform="rotate(-8 805 737.5)"/>
<ellipse class="s" cx="806.2" cy="737.5" rx="3.8" ry="14.5" transform="rotate(-8 806.2 737.5)"/>
<ellipse class="s" cx="804" cy="737.5" rx="5.5" ry="17" transform="rotate(-8 804 737.5)"/>
<ellipse class="s" cx="922" cy="670" rx="5" ry="17" transform="rotate(-8 922 670)"/>
<ellipse class="s" cx="923.2" cy="670" rx="3.8" ry="14.5" transform="rotate(-8 923.2 670)"/>
<ellipse class="s" cx="921" cy="670" rx="5.5" ry="17" transform="rotate(-8 921 670)"/>
<path class="d2" d="M787.5 747.5 L800 775"/>
<path class="d2" d="M795 740 L810 772.5"/>
<path class="d2" d="M907.5 685 L917.5 707.5"/>
<path class="d2" d="M912.5 680 L927.5 710"/>
<path class="s" d="M816.2 752.5C817.3 751.5 819.8 747.5 822.5 746.2C825.2 745 829 744 832.5 745C836 746 841.9 751.2 843.8 752.5"/>
<path class="s" d="M843.8 752.5 L842.5 760"/>
<path class="s" d="M842.5 760 L880 740"/>
<path class="s" d="M860 750 L880 740"/>
<path class="s" d="M932.5 685C933.3 684.2 935 680.6 937.5 680C940 679.4 942.9 679.6 947.5 681.2C952.1 682.9 962.1 688.5 965 690"/>
<path class="s" d="M965 690 L967.5 697.5"/>
<path class="s" d="M967.5 697.5 L992 685"/>
<ellipse class="s" cx="962.5" cy="595" rx="13" ry="7.5"/>
<ellipse class="s" cx="962.5" cy="595" rx="10.5" ry="5.8"/>
<ellipse class="s" cx="962.5" cy="595" rx="9" ry="4.8"/>
<ellipse class="s" cx="962.5" cy="608" rx="15.5" ry="7"/>
<path class="s" d="M949.5 595 L949.5 606.2"/>
<path class="s" d="M975.5 595 L975.5 606.2"/>
<path class="s" d="M975.5 606.2 L975.4 607.2 L975.1 608.1 L974.5 608.9 L973.8 609.8 L972.8 610.5 L971.7 611.2 L970.4 611.8 L969 612.3 L967.5 612.7 L965.9 613 L964.2 613.2 L962.5 613.2 L960.8 613.2 L959.1 613 L957.5 612.7 L956 612.3 L954.6 611.8 L953.3 611.2 L952.2 610.5 L951.2 609.8 L950.5 608.9 L949.9 608.1 L949.6 607.2 L949.5 606.2"/>
<path class="s" d="M955 601.2 L955 611.2"/>
<path class="s" d="M970 601.2 L970 611.2"/>
<path class="s" d="M982.5 605C983.3 606.2 985.9 610.8 987.5 612.5C989.1 614.2 991.2 614.6 992 615"/>
<path class="s" d="M970 585 L977.5 582.5 L977.5 592.5"/>
<path class="d" d="M700 840 L741.2 816.2"/>
<path class="d" d="M756.2 810 L817.5 777.5"/>
<path class="d" d="M925 710 L992 676.2"/>
<path class="d" d="M930 715 L992 682.5"/>
<path class="s" d="M700 833.8 L725 818.8"/>
<path class="s" d="M725 818.8 L725 826.2"/>
<path class="m" d="M760 920 L840 877.5 L925 832.5 L992 787.5"/>
<path class="d2" d="M775 916.2 L840 881.2 L920 838.8"/>
<path class="d" d="M850 862.5 L925 823.8"/>
<path class="d" d="M930 820 L987.5 790"/>
<path class="d" d="M847.5 857.5 L920 820"/>
<path class="d2" d="M937.5 842.5 L992 812.5"/>
<path class="d2" d="M940 850 L985 826.2"/>
<path class="d2" d="M935 832.5 L975 811.2"/>
<path class="m" d="M927.5 735 L940 742.5 L970 762.5"/>
<path class="s" d="M940 743.8 L968.8 763.8"/>
<path class="s" d="M800 782.5 L817.5 775"/>
<path class="s" d="M986.2 777.5 L986.2 787.5"/>
<path class="m" d="M990 775 L990 795"/>
<path class="s" d="M975 805C976.2 804.6 979.7 804.6 982.5 802.5C985.3 800.4 990.4 794.2 992 792.5"/>
<path class="s" d="M975 830C976.2 828.3 980.8 824.2 982.5 820C984.2 815.8 984.6 807.5 985 805"/>
<path class="s" d="M885.8 718.8C886 717.9 885.1 717 887.5 715.2C889.9 713.5 897.3 709.8 900 708.2C902.7 706.8 902.7 706.7 903.8 706.2C904.8 705.8 905.2 705.5 906.2 705.5C907.3 705.5 906.9 705 910 706.2C913.1 707.5 922 711.7 925 713.2C928 714.8 927.4 714.9 928 715.8C928.6 716.6 928.8 717.3 928.5 718.2C928.2 719.2 928.9 719.6 926.2 721.2C923.6 722.9 915.3 726.8 912.5 728.2C909.7 729.7 910.4 729.7 909.5 730C908.6 730.3 908 730.5 907 730.2C906 730 906.8 730.2 903.8 728.8C900.7 727.3 891.7 723.2 888.8 721.8C885.8 720.3 886.8 720.8 886.2 720.2C885.8 719.8 885.5 719.6 885.8 718.8Z"/>
<ellipse class="s" cx="905" cy="715.8" rx="6.2" ry="3.8"/>
<path class="d2" d="M885.8 719.2 L885.8 738.2"/>
<path class="s" d="M907.5 730.2 L907.5 743.8"/>
<path class="d2" d="M928.2 717.2 L928.2 735.8"/>
<path class="s" d="M901.2 727.8 L901.2 745.2"/>
<path class="s" d="M913.8 727.8 L913.8 743.8"/>
<path class="d2" d="M885.8 728.8 L901.2 736.8"/>
<path class="d2" d="M913.8 736.2 L928.2 726.8"/>
<path class="s" d="M885.8 738.2 L901.2 745.2"/>
<path class="s" d="M913.8 743.8 L928.2 735.8"/>
<path class="s" d="M881.2 739.5C882.7 740.5 886.2 743.9 890 745.8C893.8 747.6 899.2 750.3 903.8 750.8C908.3 751.2 912.5 750.8 917.5 748.2C922.5 745.8 931 737.8 933.8 735.8"/>
<path class="s" d="M901.2 745.2C900.8 745.8 899.6 747.6 898.8 748.2C897.9 748.9 896.7 749.1 896.2 749.2"/>
<path class="s" d="M913.8 743.8C914.2 744.3 915.3 746.3 916.2 747C917.2 747.7 919 747.6 919.5 747.8"/>
<path class="s" d="M879.5 805C879.7 804.2 878.9 803.2 881.2 801.5C883.6 799.8 891 796 893.8 794.5C896.5 793 896.5 793 897.5 792.5C898.5 792 899 791.8 900 791.8C901 791.8 900.6 791.2 903.8 792.5C906.9 793.8 915.8 797.9 918.8 799.5C921.8 801.1 921.2 801.2 921.8 802C922.3 802.8 922.5 803.6 922.2 804.5C922 805.4 922.7 805.8 920 807.5C917.3 809.2 909 813 906.2 814.5C903.5 816 904.2 815.9 903.2 816.2C902.3 816.6 901.7 816.7 900.8 816.5C899.8 816.3 900.5 816.4 897.5 815C894.5 813.6 885.4 809.4 882.5 808C879.6 806.6 880.5 807 880 806.5C879.5 806 879.3 805.8 879.5 805Z"/>
<ellipse class="s" cx="898.8" cy="802" rx="6.2" ry="3.8"/>
<path class="d2" d="M879.5 805.5 L879.5 824.5"/>
<path class="s" d="M901.2 816.5 L901.2 830"/>
<path class="d2" d="M922 803.5 L922 822"/>
<path class="s" d="M895 814 L895 831.5"/>
<path class="s" d="M907.5 814 L907.5 830"/>
<path class="d2" d="M879.5 815 L895 823"/>
<path class="d2" d="M907.5 822.5 L922 813"/>
<path class="s" d="M879.5 824.5 L895 831.5"/>
<path class="s" d="M907.5 830 L922 822"/>
<path class="s" d="M875 825.8C876.5 826.8 880 830.1 883.8 832C887.5 833.9 892.9 836.6 897.5 837C902.1 837.4 906.2 837 911.2 834.5C916.2 832 924.8 824.1 927.5 822"/>
<path class="s" d="M895 831.5C894.6 832 893.3 833.8 892.5 834.5C891.7 835.2 890.4 835.3 890 835.5"/>
<path class="s" d="M907.5 830C907.9 830.5 909 832.6 910 833.2C911 833.9 912.7 833.9 913.2 834"/>
<path class="s" d="M802 850C802.2 849.2 801.4 848.2 803.8 846.5C806.1 844.8 813.5 841 816.2 839.5C819 838 819 838 820 837.5C821 837 821.5 836.8 822.5 836.8C823.5 836.8 823.1 836.2 826.2 837.5C829.4 838.8 838.2 842.9 841.2 844.5C844.2 846.1 843.7 846.2 844.2 847C844.8 847.8 845 848.6 844.8 849.5C844.5 850.4 845.2 850.8 842.5 852.5C839.8 854.2 831.5 858 828.8 859.5C826 861 826.7 860.9 825.8 861.2C824.8 861.6 824.2 861.7 823.2 861.5C822.3 861.3 823 861.4 820 860C817 858.6 807.9 854.4 805 853C802.1 851.6 803 852 802.5 851.5C802 851 801.8 850.8 802 850Z"/>
<ellipse class="s" cx="821.2" cy="847" rx="6.2" ry="3.8"/>
<path class="d2" d="M802 850.5 L802 869.5"/>
<path class="s" d="M823.8 861.5 L823.8 875"/>
<path class="d2" d="M844.5 848.5 L844.5 867"/>
<path class="s" d="M817.5 859 L817.5 876.5"/>
<path class="s" d="M830 859 L830 875"/>
<path class="d2" d="M802 860 L817.5 868"/>
<path class="d2" d="M830 867.5 L844.5 858"/>
<path class="s" d="M802 869.5 L817.5 876.5"/>
<path class="s" d="M830 875 L844.5 867"/>
<path class="s" d="M797.5 870.8C799 871.8 802.5 875.1 806.2 877C810 878.9 815.4 881.6 820 882C824.6 882.4 828.8 882 833.8 879.5C838.8 877 847.3 869.1 850 867"/>
<path class="s" d="M817.5 876.5C817.1 877 815.8 878.8 815 879.5C814.2 880.2 812.9 880.3 812.5 880.5"/>
<path class="s" d="M830 875C830.4 875.5 831.5 877.6 832.5 878.2C833.5 878.9 835.2 878.9 835.8 879"/>
<ellipse class="s" cx="826.2" cy="769.5" rx="7" ry="3.5"/>
<path class="s" d="M819.2 769.5 L819.2 775.5"/>
<path class="s" d="M833.2 769.5 L833.2 775.5"/>
<path class="s" d="M823.8 773 L823.8 778.5"/>
<path class="s" d="M829.8 772.8 L829.8 778.2"/>
<path class="s" d="M833.2 775.5 L833.2 776 L833 776.4 L832.7 776.8 L832.3 777.2 L831.8 777.6 L831.2 778 L830.5 778.3 L829.8 778.5 L828.9 778.7 L828.1 778.9 L827.2 779 L826.2 779 L825.3 779 L824.4 778.9 L823.6 778.7 L822.8 778.5 L822 778.3 L821.3 778 L820.7 777.6 L820.2 777.2 L819.8 776.8 L819.5 776.4 L819.3 776 L819.2 775.5"/>
<ellipse class="s" cx="826.2" cy="777.5" rx="11.5" ry="5.2"/>
<path class="s" d="M837.6 779.4 L837.3 780 L836.8 780.6 L836.2 781.1 L835.5 781.6 L834.6 782.1 L833.6 782.5 L832.6 782.9 L831.4 783.2 L830.2 783.4 L828.9 783.6 L827.6 783.7 L826.2 783.8 L824.9 783.7 L823.6 783.6 L822.3 783.4 L821.1 783.2 L819.9 782.9 L818.9 782.5 L817.9 782.1 L817 781.6 L816.3 781.1 L815.7 780.6 L815.2 780 L814.9 779.4"/>
<ellipse class="s" cx="748.8" cy="817" rx="7" ry="3.5"/>
<path class="s" d="M741.8 817 L741.8 823"/>
<path class="s" d="M755.8 817 L755.8 823"/>
<path class="s" d="M746.2 820.5 L746.2 826"/>
<path class="s" d="M752.2 820.2 L752.2 825.8"/>
<path class="s" d="M755.8 823 L755.7 823.5 L755.5 823.9 L755.2 824.3 L754.8 824.8 L754.3 825.1 L753.7 825.5 L753 825.8 L752.2 826 L751.4 826.2 L750.6 826.4 L749.7 826.5 L748.8 826.5 L747.8 826.5 L746.9 826.4 L746.1 826.2 L745.2 826 L744.5 825.8 L743.8 825.5 L743.2 825.1 L742.7 824.8 L742.3 824.3 L742 823.9 L741.8 823.5 L741.8 823"/>
<ellipse class="s" cx="748.8" cy="825" rx="11.5" ry="5.2"/>
<path class="s" d="M760.1 826.9 L759.8 827.5 L759.3 828.1 L758.7 828.6 L758 829.1 L757.1 829.6 L756.1 830 L755.1 830.4 L753.9 830.7 L752.7 830.9 L751.4 831.1 L750.1 831.2 L748.8 831.2 L747.4 831.2 L746.1 831.1 L744.8 830.9 L743.6 830.7 L742.4 830.4 L741.4 830 L740.4 829.6 L739.5 829.1 L738.8 828.6 L738.2 828.1 L737.7 827.5 L737.4 826.9"/>
<ellipse class="s" cx="977.5" cy="768.2" rx="7" ry="3.5"/>
<path class="s" d="M970.5 768.2 L970.5 774.2"/>
<path class="s" d="M984.5 768.2 L984.5 774.2"/>
<path class="s" d="M975 771.8 L975 777.2"/>
<path class="s" d="M981 771.5 L981 777"/>
<path class="s" d="M984.5 774.2 L984.4 774.7 L984.3 775.2 L984 775.6 L983.6 776 L983.1 776.4 L982.4 776.7 L981.8 777 L981 777.3 L980.2 777.5 L979.3 777.6 L978.4 777.7 L977.5 777.8 L976.6 777.7 L975.7 777.6 L974.8 777.5 L974 777.3 L973.2 777 L972.6 776.7 L971.9 776.4 L971.4 776 L971 775.6 L970.7 775.2 L970.6 774.7 L970.5 774.2"/>
<ellipse class="s" cx="977.5" cy="776.2" rx="11.5" ry="5.2"/>
<path class="s" d="M988.8 778.2 L988.5 778.8 L988.1 779.3 L987.5 779.9 L986.7 780.4 L985.9 780.9 L984.9 781.3 L983.8 781.6 L982.7 781.9 L981.4 782.2 L980.2 782.4 L978.8 782.5 L977.5 782.5 L976.2 782.5 L974.8 782.4 L973.6 782.2 L972.3 781.9 L971.2 781.6 L970.1 781.3 L969.1 780.9 L968.3 780.4 L967.5 779.9 L966.9 779.3 L966.5 778.8 L966.2 778.2"/>
<ellipse class="s" cx="742.5" cy="902" rx="7" ry="3.5"/>
<path class="s" d="M735.5 902 L735.5 908"/>
<path class="s" d="M749.5 902 L749.5 908"/>
<path class="s" d="M740 905.5 L740 911"/>
<path class="s" d="M746 905.2 L746 910.8"/>
<path class="s" d="M749.5 908 L749.4 908.5 L749.3 908.9 L749 909.3 L748.6 909.8 L748.1 910.1 L747.4 910.5 L746.8 910.8 L746 911 L745.2 911.2 L744.3 911.4 L743.4 911.5 L742.5 911.5 L741.6 911.5 L740.7 911.4 L739.8 911.2 L739 911 L738.2 910.8 L737.6 910.5 L736.9 910.1 L736.4 909.8 L736 909.3 L735.7 908.9 L735.6 908.5 L735.5 908"/>
<ellipse class="s" cx="742.5" cy="910" rx="11.5" ry="5.2"/>
<path class="s" d="M753.8 911.9 L753.5 912.5 L753.1 913.1 L752.5 913.6 L751.7 914.1 L750.9 914.6 L749.9 915 L748.8 915.4 L747.7 915.7 L746.4 915.9 L745.2 916.1 L743.8 916.2 L742.5 916.2 L741.2 916.2 L739.8 916.1 L738.6 915.9 L737.3 915.7 L736.2 915.4 L735.1 915 L734.1 914.6 L733.3 914.1 L732.5 913.6 L731.9 913.1 L731.5 912.5 L731.2 911.9"/>
<ellipse class="s" cx="796.2" cy="806.2" rx="23.8" ry="12.5"/>
<ellipse class="s" cx="796.2" cy="800" rx="12.5" ry="7"/>
<ellipse class="s" cx="796.2" cy="797" rx="4.5" ry="2.8"/>
<path class="s" d="M783.8 800 L783.8 806.2"/>
<path class="s" d="M808.8 800 L808.8 806.2"/>
<path class="s" d="M808.8 806.2 L808.6 807.2 L808.3 808.1 L807.8 808.9 L807.1 809.8 L806.2 810.5 L805.1 811.2 L803.9 811.8 L802.5 812.3 L801 812.7 L799.5 813 L797.9 813.2 L796.2 813.2 L794.6 813.2 L793 813 L791.5 812.7 L790 812.3 L788.6 811.8 L787.4 811.2 L786.3 810.5 L785.4 809.8 L784.7 808.9 L784.2 808.1 L783.9 807.2 L783.8 806.2"/>
<path class="s" d="M813.5 809.1 L813 810.2 L812.3 811.3 L811.4 812.2 L810.3 813.2 L809 814 L807.5 814.8 L805.9 815.4 L804.1 816 L802.2 816.4 L800.3 816.7 L798.3 816.9 L796.2 817 L794.2 816.9 L792.2 816.7 L790.3 816.4 L788.4 816 L786.6 815.4 L785 814.8 L783.5 814 L782.2 813.2 L781.1 812.2 L780.2 811.3 L779.5 810.2 L779 809.1"/>
<path class="s" d="M978.8 729.5 L976.6 729.4 L974.5 729.2 L972.5 728.8 L970.6 728.2 L968.9 727.5 L967.3 726.7 L965.9 725.8 L964.7 724.8 L963.7 723.6 L963.1 722.5 L962.6 721.2 L962.5 720 L962.6 718.8 L963.1 717.5 L963.7 716.4 L964.7 715.2 L965.9 714.2 L967.3 713.3 L968.9 712.5 L970.6 711.8 L972.5 711.2 L974.5 710.8 L976.6 710.6 L978.8 710.5"/>
<path class="s" d="M979.5 725 L978.3 725 L977 724.8 L975.9 724.6 L974.8 724.3 L973.7 723.9 L972.8 723.4 L972 722.8 L971.3 722.2 L970.7 721.6 L970.3 720.9 L970.1 720.2 L970 719.5 L970.1 718.8 L970.3 718.1 L970.7 717.4 L971.3 716.8 L972 716.2 L972.8 715.6 L973.7 715.1 L974.8 714.7 L975.9 714.4 L977 714.2 L978.3 714 L979.5 714"/>
<ellipse class="s" cx="880" cy="818.8" rx="7.5" ry="8.8"/>
<ellipse class="s" cx="800" cy="865" rx="6.2" ry="7.5"/>
<path class="s" d="M886.2 827.5 L897.5 832.5"/>
<path class="s" d="M897.5 825 L897.5 840"/>
<path class="s" d="M807.5 872.5 L820 878.8"/>
<path class="s" d="M820 870 L820 885"/>
<path class="s" d="M917.5 832.5C917.5 835.8 916.7 848.4 917.5 852.5C918.3 856.6 920.4 856.8 922.5 857C924.6 857.2 927.7 855.8 930 853.8C932.3 851.8 935.2 849.4 936.2 845C937.3 840.6 936.2 830.4 936.2 827.5"/>
<ellipse class="s" cx="926.2" cy="842.5" rx="4" ry="6.2" transform="rotate(20 926.2 842.5)"/>
<path class="s" d="M838.8 880C838.8 882.9 837.7 894 838.8 897.5C839.8 901 842.7 901.2 845 901.2C847.3 901.2 850.6 899.8 852.5 897.5C854.4 895.2 855.6 889.2 856.2 887.5"/>
<ellipse class="s" cx="848.8" cy="887" rx="4" ry="6.2" transform="rotate(20 848.8 887)"/>
<ellipse class="s" cx="860" cy="894.5" rx="4" ry="6.2" transform="rotate(20 860 894.5)"/>
<path class="s" d="M852.5 902.5C853.8 903.3 857.7 907.9 860 907.5C862.3 907.1 864.6 905.4 866.2 900C867.9 894.6 869.4 879.2 870 875"/>
<path class="s" d="M858.8 865 L858.8 890"/>
<path class="s" d="M905 837.5 L917.5 832.5"/>
<path class="s" d="M865 877.5 L872.5 867.5"/>
<path class="s" d="M830 892.5 L840 902.5"/>
<path class="s" d="M817.5 895 L830 905"/>
<path class="s" d="M753.8 886.2C755 884.6 756.5 882.9 760 882.5C763.5 882.1 769.6 882.3 775 883.8C780.4 885.2 792.5 887.7 792.5 891.2C792.5 894.8 780 902.1 775 905C770 907.9 766 909.6 762.5 908.8C759 907.9 755.4 902.7 753.8 900C752.1 897.3 752.5 894.8 752.5 892.5C752.5 890.2 752.5 887.9 753.8 886.2Z"/>
<path class="s" d="M756.2 888.8C759.4 888.3 769.4 885.7 775 886.2C780.6 886.8 787.5 891 790 892"/>
<path class="s" d="M787.5 906.2 L792.5 905 L792.5 912.5 L787.5 913.8 L787.5 906.2"/>
<path class="s" d="M700 815 L710 812.5 L725 817.5"/>
<path class="s" d="M700 827.5 L705 813.8"/>
<path class="s" d="M710 812.5 L712.5 823.8"/>
<path class="s" d="M717.5 815 L718.8 826.2"/>
<path class="s" d="M725 817.5 L725 826.2 L700 842.5"/>
<path class="s" d="M992 605 L987.5 610"/>
<!-- p13_coverI.py -->
<path class="s" d="M651 853C651.2 852.2 650.4 851.2 652.8 849.5C655.1 847.8 662.5 844 665.2 842.5C668 841 668 841 669 840.5C670 840 670.5 839.8 671.5 839.8C672.5 839.8 672.1 839.2 675.2 840.5C678.4 841.8 687.2 845.9 690.2 847.5C693.2 849.1 692.7 849.2 693.2 850C693.8 850.8 694 851.6 693.8 852.5C693.5 853.4 694.2 853.8 691.5 855.5C688.8 857.2 680.5 861 677.8 862.5C675 864 675.7 863.9 674.8 864.2C673.8 864.6 673.2 864.7 672.2 864.5C671.3 864.3 672 864.4 669 863C666 861.6 656.9 857.4 654 856C651.1 854.6 652 855 651.5 854.5C651 854 650.8 853.8 651 853Z"/>
<ellipse class="s" cx="670.2" cy="850" rx="6.2" ry="3.8"/>
<path class="d2" d="M651 853.5 L651 872.5"/>
<path class="s" d="M672.8 864.5 L672.8 878"/>
<path class="d2" d="M693.5 851.5 L693.5 870"/>
<path class="s" d="M666.5 862 L666.5 879.5"/>
<path class="s" d="M679 862 L679 878"/>
<path class="d2" d="M651 863 L666.5 871"/>
<path class="d2" d="M679 870.5 L693.5 861"/>
<path class="s" d="M651 872.5 L666.5 879.5"/>
<path class="s" d="M679 878 L693.5 870"/>
<path class="s" d="M646.5 873.8C648 874.8 651.5 878.1 655.2 880C659 881.9 664.4 884.6 669 885C673.6 885.4 677.8 885 682.8 882.5C687.8 880 696.3 872.1 699 870"/>
<path class="s" d="M666.5 879.5C666.1 880 664.8 881.8 664 882.5C663.2 883.2 661.9 883.3 661.5 883.5"/>
<path class="s" d="M679 878C679.4 878.5 680.5 880.6 681.5 881.2C682.5 881.9 684.2 881.9 684.8 882"/>
<path class="s" d="M701.5 813.8 L714 812.5 L724 818.8 L724 826.2 L701.5 840 L694 842.5 L697.8 820 L701.5 813.8"/>
<path class="s" d="M706.5 813.8 L704 822.5"/>
<path class="s" d="M714 813.2 L712.8 822.5"/>
<path class="s" d="M724 818.8 L719 825.5"/>
<path class="s" d="M697.8 820.5 L719 825.5"/>
<path class="s" d="M584 880 L594 877.5 L609 885 L609 893.8 L584 907.5"/>
<path class="s" d="M589 878.8 L587.8 890"/>
<path class="s" d="M599 880 L599 890"/>
<path class="s" d="M584 890 L609 893.8"/>
<path class="d" d="M609 890 L649 872.5"/>
<path class="s" d="M609 886.2C611.9 885.6 620.7 884.6 626.5 882.5C632.3 880.4 641.1 875.2 644 873.8"/>
<path class="s" d="M694 842.5 L689 846.2"/>
<path class="d" d="M604 900 L694 952.5"/>
<path class="d" d="M609 896.2 L696.5 946.2"/>
<path class="d2" d="M616.5 910 L684 950"/>
<path class="m" d="M691.5 953.8 L760 918.5"/>
<path class="d" d="M701.5 953.8 L774 915.5"/>
<path class="d" d="M694 945 L784 897.5"/>
<path class="d2" d="M694 940 L774 898.8"/>
<path class="s" d="M691.5 953.8 L691.5 960"/>
<path class="d2" d="M584 910 L604 900"/>
<path class="d2" d="M584 923.8 L609 910"/>
<ellipse class="s" cx="599" cy="917" rx="5.5" ry="3.2"/>
<ellipse class="s" cx="665.2" cy="938" rx="6.2" ry="3.5"/>
<ellipse class="s" cx="672.8" cy="959.5" rx="6.2" ry="3.5"/>
<ellipse class="s" cx="672.8" cy="959.5" rx="3.2" ry="2"/>
<ellipse class="s" cx="594" cy="1003.8" rx="6.2" ry="3.5"/>
<ellipse class="s" cx="594" cy="1003.8" rx="3.2" ry="2"/>
<path class="s" d="M669 940 L669 950"/>
<path class="s" d="M676.5 942.5 L677.8 950 L689 955"/>
<path class="s" d="M666.5 950 L684 957.5"/>
<path class="s" d="M584 932.5C585.7 933.8 589.8 939.6 594 940C598.2 940.4 605.2 935.8 609 935C612.8 934.2 612.3 933.3 616.5 935C620.7 936.7 627.3 941.2 634 945C640.7 948.8 651.8 954.5 656.5 957.5C661.2 960.5 661.6 960.9 662 963C662.4 965.1 662.4 967.6 659 970C655.6 972.4 645.7 977.1 641.5 977.5C637.3 977.9 636.1 972.4 634 972.5C631.9 972.6 633.2 975.9 629 978C624.8 980.1 614 983.6 609 985C604 986.4 600.7 986 599 986.2"/>
<path class="d2" d="M636.5 947.5 L636.5 972.5"/>
<path class="d2" d="M642.8 947.5 L642.8 975"/>
<path class="s" d="M594 925 L594 935"/>
<path class="s" d="M606.5 925 L606.5 935"/>
<path class="s" d="M584 925C585.2 924.8 589 922.9 591.5 923.8C594 924.6 596.1 929.4 599 930C601.9 930.6 607.3 927.9 609 927.5"/>
<path class="d2" d="M609 938.8 L656.5 965"/>
<path class="d2" d="M614 980 L656.5 970"/>
<ellipse class="s" cx="587.8" cy="985.8" rx="7" ry="3.5"/>
<path class="s" d="M580.8 985.8 L580.8 991.8"/>
<path class="s" d="M594.8 985.8 L594.8 991.8"/>
<path class="s" d="M585.2 989.2 L585.2 994.8"/>
<path class="s" d="M591.2 989 L591.2 994.5"/>
<path class="s" d="M594.8 991.8 L594.7 992.2 L594.5 992.7 L594.2 993.1 L593.8 993.5 L593.3 993.9 L592.7 994.2 L592 994.5 L591.2 994.8 L590.4 995 L589.6 995.1 L588.7 995.2 L587.8 995.2 L586.8 995.2 L585.9 995.1 L585.1 995 L584.2 994.8 L583.5 994.5 L582.8 994.2 L582.2 993.9 L581.7 993.5 L581.3 993.1 L581 992.7 L580.8 992.2 L580.8 991.8"/>
<ellipse class="s" cx="587.8" cy="993.8" rx="11.5" ry="5.2"/>
<path class="s" d="M599.1 995.7 L598.8 996.3 L598.3 996.8 L597.7 997.4 L597 997.9 L596.1 998.4 L595.1 998.8 L594.1 999.1 L592.9 999.4 L591.7 999.7 L590.4 999.9 L589.1 1000 L587.8 1000 L586.4 1000 L585.1 999.9 L583.8 999.7 L582.6 999.4 L581.4 999.1 L580.4 998.8 L579.4 998.4 L578.5 997.9 L577.8 997.4 L577.2 996.8 L576.7 996.3 L576.4 995.7"/>
<path class="s" d="M684 960 L684 1000"/>
<path class="d2" d="M691.5 960 L691.5 1000"/>
<path class="s" d="M677.8 1007.5C678.8 1008.1 681.9 1011.2 684 1011.2C686.1 1011.2 688.9 1009.4 690.2 1007.5C691.6 1005.6 691.7 1001.2 692 1000"/>
<ellipse class="s" cx="684" cy="1002.5" rx="2.5" ry="4" transform="rotate(20 684 1002.5)"/>
<path class="s" d="M596.5 1012.5 L596.5 1055"/>
<path class="d2" d="M609 1010 L609 1050"/>
<path class="s" d="M596.5 1055C597.3 1055.8 599.6 1059.8 601.5 1060C603.4 1060.2 606.5 1057.9 607.8 1056.2C609 1054.6 608.8 1051 609 1050"/>
<ellipse class="s" cx="602" cy="1050.5" rx="2.5" ry="4" transform="rotate(20 602 1050.5)"/>
<path class="s" d="M584 1006.2 L596.5 1012.5"/>
<path class="s" d="M584 1052.5 L596.5 1058.8"/>
<path class="s" d="M609 1010 L676.5 970"/>
<path class="d" d="M609 1030 L659 1000"/>
<path class="s" d="M611.5 1025 L654 1001.2"/>
<path class="s" d="M621.5 1012.5C623.6 1010.4 629.8 1002.9 634 1000C638.2 997.1 643.5 994.6 646.5 995C649.5 995.4 652 999.2 652 1002.5C652 1005.8 650.3 1011.2 646.5 1015C642.7 1018.8 634.8 1022.7 629 1025C623.2 1027.3 614.4 1028.1 611.5 1028.8"/>
<path class="s" d="M659 1000 L676.5 1010"/>
<path class="s" d="M676.5 1010 L684 1006.2"/>
<path class="s" d="M669 975 L669 1000"/>
<path class="d2" d="M675.2 972.5 L675.2 1006.2"/>
<path class="s" d="M664 992.5 L674 987.5"/>
<path class="s" d="M664 996.2 L674 991.2"/>
<path class="s" d="M691.5 972.5C693.6 970.4 699.8 962.5 704 960C708.2 957.5 712.8 959.2 716.5 957.5C720.2 955.8 724.8 951.2 726.5 950"/>
<path class="s" d="M691.5 986.2C692.8 985.2 694.8 981.9 699 980C703.2 978.1 712.3 978.3 716.5 975C720.7 971.7 720.2 965 724 960C727.8 955 736.5 947.5 739 945"/>
<path class="s" d="M699 967.5C700.7 966.2 705.7 960.8 709 960C712.3 959.2 717.3 962.1 719 962.5"/>
<path class="s" d="M729 935 L759 920"/>
<path class="d2" d="M734 940 L774 920"/>
<path class="s" d="M764 927.5 L774 932.5 L779 922.5"/>
<path class="s" d="M789 905 L789 912.5 L794 910 L794 903.8"/>
<path class="s" d="M784 922.5 L834 900"/>
<path class="s" d="M791.5 922.5 L834 905"/>
<path class="s" d="M816.5 895C817.8 895.8 821.1 897.9 824 900C826.9 902.1 832.3 906.2 834 907.5"/>
<!-- p14_coverH.py -->
<path class="s" d="M993.5 581.2 L971 583.8"/>
<path class="s" d="M976 583.8 L968.5 590"/>
<path class="s" d="M1003.5 577.5C1004.8 576.5 1008.5 572.1 1011 571.2C1013.5 570.4 1016.8 571.5 1018.5 572.5C1020.2 573.5 1021.9 576 1021.5 577.5C1021.1 579 1016.9 580.6 1016 581.2"/>
<path class="s" d="M993.5 577.5 L1011 577.5"/>
<path class="s" d="M1006 575 L1012.2 581.2"/>
<path class="s" d="M993.5 577.5 L994.8 582.5"/>
<path class="d2" d="M1029.8 566.2C1030.8 566.7 1034.3 566.9 1036 568.8C1037.7 570.6 1039.1 576 1039.8 577.5"/>
<path class="d2" d="M1039.8 577.5C1040.4 579.6 1042 583.8 1043.5 590C1045 596.2 1046.4 607.5 1048.5 615C1050.6 622.5 1052.7 631.2 1056 635C1059.3 638.8 1065.2 637.7 1068.5 637.5C1071.8 637.3 1073.5 634.2 1076 633.8C1078.5 633.3 1081.1 633.1 1083.5 635C1085.9 636.9 1089.2 642.1 1090.5 645C1091.8 647.9 1090.9 651.2 1091 652.5"/>
<path class="s" d="M1013.5 582.5C1013.9 584.6 1016.2 591.2 1016 595C1015.8 598.8 1012.9 603.3 1012.2 605"/>
<path class="s" d="M1031 580C1030.7 581.7 1029.8 586.2 1029 590C1028.2 593.8 1027.3 599.1 1026 602.5C1024.7 605.9 1021.8 609.2 1021 610.5"/>
<ellipse class="s" cx="1038.5" cy="600" rx="5" ry="17" transform="rotate(-8 1038.5 600)"/>
<ellipse class="s" cx="1039.8" cy="600" rx="3.8" ry="14.5" transform="rotate(-8 1039.8 600)"/>
<ellipse class="s" cx="1037.5" cy="600" rx="5.5" ry="17" transform="rotate(-8 1037.5 600)"/>
<path class="d2" d="M1021 611.2 L1041 650"/>
<path class="d2" d="M1028.5 607.5 L1052.2 647.5"/>
<path class="s" d="M1041 650 L1052.2 647.5"/>
<path class="d" d="M992 676.2 L1051 646.5"/>
<path class="d" d="M992 682.5 L1056 650"/>
<path class="d" d="M928.5 712.5 L1026 660"/>
<path class="s" d="M1056 652.5 L1076 665"/>
<path class="s" d="M1053.5 655 L1066 657.5"/>
<ellipse class="s" cx="1069" cy="710" rx="18.5" ry="26.5" transform="rotate(15 1069 710)"/>
<ellipse class="s" cx="1070.5" cy="710.5" rx="14" ry="22" transform="rotate(15 1070.5 710.5)"/>
<path class="s" d="M1048.5 672.5C1046.8 674.6 1041.4 678.8 1038.5 685C1035.6 691.2 1031.8 702.9 1031 710C1030.2 717.1 1031.8 722.8 1033.5 727.5C1035.2 732.2 1039.8 736.2 1041 738"/>
<path class="s" d="M1056 676.2C1054.3 678.5 1048.7 684 1046 690C1043.3 696 1040.4 705.8 1039.8 712.5C1039.1 719.2 1040.4 725.3 1042.2 730C1044.1 734.7 1049.5 738.8 1051 740.5"/>
<path class="s" d="M1061 679.5C1059.7 682.1 1055.1 689.1 1053 695C1050.9 700.9 1048.8 708.8 1048.5 715C1048.2 721.2 1048.9 728.2 1051 732.5C1053.1 736.8 1059.3 739.2 1061 740.5"/>
<path class="s" d="M1041 738 L1061 740.5"/>
<path class="s" d="M1043.5 672.5C1043.9 671.9 1043.9 669.2 1046 668.8C1048.1 668.3 1053.7 668.8 1056 670C1058.3 671.2 1059.5 673.5 1059.8 676.2C1060 679 1057.7 684.6 1057.2 686.2"/>
<path class="s" d="M1048.5 680 L1057.2 683.8"/>
<path class="s" d="M1051 670 L1051 680"/>
<path class="s" d="M1056 676.2 L1054.8 687.5"/>
<path class="s" d="M1043.5 672.5 L1044 680 L1048.5 680"/>
<path class="d2" d="M1076 665 L1091 670 L1091 680 L1098.5 682.5 L1098.5 696.2"/>
<path class="d2" d="M1111 671.2 L1111 690"/>
<path class="d2" d="M1098.5 696.2 L1111 690"/>
<path class="d2" d="M1096 677.5 L1111 671.2"/>
<path class="d2" d="M1091 660 L1111 670"/>
<path class="d2" d="M1091 652.5 L1091 660"/>
<path class="s" d="M1088.5 695C1089.3 695.8 1093.1 696.7 1093.5 700C1093.9 703.3 1092.7 710 1091 715C1089.3 720 1086.8 726.2 1083.5 730C1080.2 733.8 1073.1 736.7 1071 738"/>
<path class="s" d="M1076 633.8 L1083.5 640 L1088.5 650"/>
<ellipse class="s" cx="979" cy="720.5" rx="17.5" ry="10.5"/>
<ellipse class="s" cx="979" cy="720.5" rx="9" ry="5.2"/>
<path class="s" d="M996.2 724.3 L995.8 725.5 L995.1 726.7 L994.2 727.8 L993 728.8 L991.7 729.7 L990.2 730.5 L988.6 731.3 L986.9 731.9 L985 732.4 L983 732.7 L981 732.9 L979 733 L977 732.9 L975 732.7 L973 732.4 L971.1 731.9 L969.4 731.3 L967.8 730.5 L966.3 729.7 L965 728.8 L963.8 727.8 L962.9 726.7 L962.2 725.5 L961.8 724.3"/>
<ellipse class="s" cx="1029" cy="748.8" rx="18" ry="11.2"/>
<ellipse class="s" cx="1029" cy="747.5" rx="9" ry="5.2"/>
<path class="s" d="M1011 750C1011.2 751.2 1009.8 755.3 1012.2 757.5C1014.8 759.7 1021.2 762.6 1026 763C1030.8 763.4 1037.5 761.8 1041 760C1044.5 758.2 1046.2 753.8 1047.2 752.5"/>
<path class="s" d="M1047.2 752.5 L1047.2 767.5"/>
<path class="s" d="M1047.2 767.5C1046.6 768.8 1046.2 772.8 1043.5 775C1040.8 777.2 1033.1 779.6 1031 780.5"/>
<ellipse class="s" cx="1027.2" cy="776.2" rx="6.2" ry="3.8"/>
<path class="s" d="M1018.5 772.5 L1026 780"/>
<path class="s" d="M988.5 706.2 L993.5 702.5 L1001 712.5"/>
<path class="s" d="M1006 715 L1031 735"/>
<path class="s" d="M1008.5 720 L1028.5 732.5"/>
<ellipse class="s" cx="1006" cy="713.8" rx="2.5" ry="2"/>
<path class="m" d="M992 787.5 L1036 758"/>
<path class="s" d="M986 790 L993.5 775"/>
<path class="s" d="M971 815C972.7 814.2 978.5 812.5 981 810C983.5 807.5 984.8 803.3 986 800C987.2 796.7 988.1 791.7 988.5 790"/>
<path class="s" d="M991 787.5 L1001 790"/>
<path class="s" d="M993.5 775 L1001 778.8"/>
<path class="d" d="M1001 780 L1036 762.5"/>
<path class="d2" d="M996 772.5 L1016 762.5"/>
<path class="d" d="M931 822.5 L976 800"/>
<path class="d2" d="M938.5 832.5 L976 812.5"/>
<path class="s" d="M976 800C976.8 800.8 980.6 802.5 981 805C981.4 807.5 980.2 812.1 978.5 815C976.8 817.9 972.2 821.2 971 822.5"/>
<path class="s" d="M951 827.5 L971 817.5"/>
<path class="m" d="M876 857.5 L923.5 830"/>
<path class="s" d="M876 862.5 L916 840"/>
<path class="s" d="M908.5 847.5 L936 832.5"/>
<path class="d2" d="M876 847.5 L913.5 827.5"/>
<path class="d2" d="M883.5 865 L911 850"/>
<path class="d" d="M990 674.7 L1028.2 655.6"/>
<path class="d" d="M990 687.2 L1038.5 662.9"/>
<path class="d2" d="M998.8 699 L1019.4 688.7"/>
<path class="d2" d="M1020.9 682.1 L1042.9 671.8"/>
<path class="d2" d="M1063.5 648.2 L1078.2 640.9"/>
<path class="d2" d="M1073.8 657.1 L1084.1 652.6"/>
<path class="d2" d="M1069.4 665.9 L1091.5 655.6"/>
<path class="s" d="M1034.1 646.8 L1041.5 656.3 L1048.8 652.6"/>
<path class="s" d="M1050.3 639.4C1050.8 640.4 1053.5 643.3 1053.2 645.3C1053 647.3 1049.6 650.2 1048.8 651.2"/>
<path class="d2" d="M1016.5 612.2 L1034.1 646.8"/>
<path class="s" d="M1050.3 721.8C1052 721 1057.4 720.3 1060.6 717.4C1063.8 714.4 1067.5 709.5 1069.4 704.1C1071.4 698.7 1071.9 688.2 1072.4 685"/>
<path class="s" d="M1076.8 662.9 L1078.2 673.2 L1095.9 677.6"/>
<path class="s" d="M1090.7 677.6 L1090.7 695.3 L1098.8 697.5 L1098.8 680.6"/>
<path class="s" d="M1095.1 679.1 L1095.1 696"/>
<path class="s" d="M1042.9 676.2 L1048.8 671.8 L1054.7 672.5 L1060.6 676.2"/>
<path class="s" d="M1044.4 682.1 L1056.2 687.9"/>
<path class="s" d="M1048.8 673.2 L1048.8 682.1"/>
<path class="s" d="M1054.7 674 L1054.7 685"/>
<!-- p15_headP.py -->
<path class="d" d="M230.3 885.1 L286.8 852.5"/>
<path class="d2" d="M230.3 885.1 L226.8 910.8"/>
<path class="d2" d="M286.8 852.5 L286.8 869.7"/>
<path class="d2" d="M298.8 854.2 L298.8 871.4"/>
<path class="d2" d="M309 856 L309 874.8"/>
<path class="s" d="M271.4 881.6C272.2 879.9 273.1 877.9 276.5 876.5C279.9 875.1 286.5 873.1 291.9 873.1C297.3 873.1 305.2 874.5 309 876.5C312.9 878.5 314.5 882.2 315 885.1C315.6 887.9 314.6 891.3 312.5 893.6C310.3 895.9 306.8 897.9 302.2 898.8C297.6 899.6 289.6 899.6 285.1 898.8C280.5 897.9 277.1 895.6 274.8 893.6C272.5 891.6 271.9 888.8 271.4 886.8C270.8 884.8 270.5 883.4 271.4 881.6Z"/>
<path class="s" d="M288.5 869.7 L297.1 869.7 L297.1 873.1"/>
<path class="s" d="M285.1 900.5 L285.1 905.6"/>
<path class="s" d="M293.6 900.5 L293.6 905.6"/>
<ellipse class="s" cx="329.6" cy="902.2" rx="6.8" ry="3.8"/>
<ellipse class="s" cx="381.8" cy="873.1" rx="6" ry="3.4"/>
<ellipse class="s" cx="381.8" cy="833.7" rx="5.1" ry="3.1"/>
<ellipse class="s" cx="260.8" cy="911.6" rx="3.8" ry="2.4"/>
<path class="s" d="M334.7 825.1 L334.7 849.1"/>
<path class="s" d="M334.7 849.1 L363.8 864.5"/>
<path class="m" d="M336.4 873.1 L336.4 888.5"/>
<path class="s" d="M338.2 833.7 L362.1 849.1"/>
<path class="s" d="M322.7 864.5C323.9 865.1 326.7 867.7 329.6 867.9C332.4 868.2 337 867.4 339.9 866.2C342.7 865.1 345.6 862.8 346.7 861.1C347.9 859.4 346.7 856.8 346.7 856"/>
<path class="s" d="M331.3 850.8C332.7 851.4 336.7 854 339.9 854.2C343 854.5 347.3 853.7 350.1 852.5C353 851.4 355.8 848.3 357 847.4"/>
<path class="s" d="M353.6 873.1 L374.1 854.2"/>
<path class="s" d="M355.3 876.5 L377.5 856"/>
<path class="s" d="M365.5 845.7 L365.5 867.9"/>
<path class="s" d="M351.8 874.8 L351.8 881.6 L360.4 886.8"/>
<path class="s" d="M360.4 869.7 L365.5 871.4"/>
<path class="s" d="M321 885.1C321.9 884.2 323.6 880.9 326.2 879.9C328.7 878.9 333.6 878.8 336.4 879.1C339.3 879.4 342.1 881.2 343.3 881.6"/>
<path class="s" d="M322.7 891.9C323.9 891.3 326.7 889.1 329.6 888.5C332.4 887.9 336.4 887.6 339.9 888.5C343.3 889.3 348.4 892.8 350.1 893.6"/>
<path class="s" d="M309 900.5 L315.9 888.5"/>
<path class="s" d="M312.5 902.2 L319.3 890.2"/>
<path class="m" d="M305.6 898.8 L326.2 878.2"/>
<path class="s" d="M315.9 857.7 L321 876.5"/>
<path class="s" d="M318.5 856.8 L324.5 874.8"/>
<path class="s" d="M322.7 876.5 L336.4 876.5"/>
<path class="s" d="M346.7 856 L346.7 869.7"/>
<path class="s" d="M322.7 864.5 L322.7 876.5"/>
<path class="s" d="M321.9 909C322 910.8 321.5 916.5 322.7 919.3C324 922.2 326.7 924.2 329.6 926.2C332.4 928.2 337 930.7 339.9 931.3C342.7 931.9 344.7 931 346.7 929.6C348.7 928.2 351.8 925 351.8 922.7C351.8 920.5 347.3 918.5 346.7 915.9C346.1 913.3 348.1 908.8 348.4 907.3"/>
<path class="s" d="M374.1 931.3C375 931.9 376.7 934.4 379.2 934.7C381.8 935 387 932.2 389.5 933C392.1 933.9 393.5 937.3 394.7 939.9C395.8 942.4 394.7 946.1 396.4 948.4C398.1 950.7 401.8 953.3 404.9 953.6C408.1 953.8 412.7 951.8 415.2 950.1C417.7 948.4 419.2 944.4 420 943.3"/>
<path class="s" d="M384.4 922.7C385.1 922.5 387.5 920.7 388.7 921C389.8 921.3 391.4 922.5 391.2 924.5C391.1 926.4 388.4 931.6 387.8 933"/>
<path class="s" d="M384.4 910.8 L410.1 912.5 L413.5 917.6"/>
<path class="s" d="M391.2 922.7 L389.5 934.7"/>
<path class="s" d="M315.9 943.3C317 944.4 320.2 948.7 322.7 950.1C325.3 951.6 329.9 951.6 331.3 951.8"/>
<path class="s" d="M331.3 951.8 L331.3 987.8"/>
<path class="d2" d="M334.7 955.3 L334.7 987.8"/>
<path class="d2" d="M346.7 957 L346.7 987.8"/>
<path class="m" d="M353.6 962.1 L353.6 984.4"/>
<path class="d2" d="M358.7 957 L358.7 982.7"/>
<path class="d2" d="M369 955.3 L369 974.1"/>
<path class="d2" d="M381 957 L381 970.7"/>
<path class="s" d="M360.4 955.3C361.6 954.8 364.4 952.8 367.3 952.7C370.1 952.6 373.5 953.7 377.5 954.4C381.5 955.1 388.5 955.7 391.2 957C393.9 958.3 394.1 960.7 393.8 962.1C393.5 963.6 390.2 965 389.5 965.5"/>
<path class="s" d="M309 970.7C309.6 969 311.6 963.8 312.5 960.4C313.3 957 313.9 951.8 314.2 950.1"/>
<path class="s" d="M309 970.7C310.2 972.1 312.2 976.2 315.9 979.2C319.6 982.2 328.7 987.1 331.3 988.7"/>
<path class="s" d="M331.3 988.7 L350.1 988.7"/>
<path class="d" d="M350.1 988.7 L420 955.3"/>
<path class="s" d="M298.8 945 L309 950.1"/>
<path class="s" d="M298.8 945 L298.8 950.1 L309 955.3"/>
<path class="s" d="M309 939.9 L309 957"/>
<path class="m" d="M312.5 960.4 L312.5 970.7"/>
<path class="d" d="M220 938.2 L262.8 962.1"/>
<path class="d" d="M262.8 962.1 L262.8 1000"/>
<path class="s" d="M262.8 962.1C263.9 963.3 266.8 966.8 269.7 969C272.5 971.1 275.9 973.5 279.9 975C283.9 976.4 291.3 977.1 293.6 977.5"/>
<path class="d2" d="M279.9 975 L279.9 1000"/>
<path class="d2" d="M285.1 976.7 L285.1 1000"/>
<path class="s" d="M293.6 984.4C294.8 984.1 297.9 982.4 300.5 982.7C303 983 305.3 983.8 309 986.1C312.8 988.4 320.5 994.7 322.7 996.4"/>
<path class="s" d="M288.5 991.2C289.6 990.7 292.5 988.1 295.3 987.8C298.2 987.5 302.2 987.8 305.6 989.5C309 991.2 314.2 996.7 315.9 998.1"/>
<path class="s" d="M220 963.8 L230.3 969"/>
<path class="s" d="M223.4 991.2C224 989.5 224.6 983.8 226.8 981C229.1 978.1 233.1 974.4 237.1 974.1C241.1 973.8 247.1 977.5 250.8 979.2C254.5 981 258 983.5 259.4 984.4"/>
<path class="s" d="M226.8 992.9C227.4 991.5 228.3 986.8 230.3 984.4C232.3 982 235.7 978.8 238.8 978.4C242 978 247.4 981.2 249.1 981.8"/>
<ellipse class="s" cx="238" cy="996.4" rx="2.6" ry="5.1" transform="rotate(-20 238 996.4)"/>
<ellipse class="s" cx="252.5" cy="996.4" rx="2.6" ry="5.1" transform="rotate(-20 252.5 996.4)"/>
<path class="d2" d="M235.4 837.1 L254.2 825.1"/>
<path class="s" d="M262.8 830.3C263.9 831.1 266.5 834.3 269.7 835.4C272.8 836.6 278.4 838.3 281.6 837.1C284.9 836 289.6 831.4 289.3 828.6C289.1 825.7 281.5 821.4 279.9 820"/>
<path class="s" d="M242.3 845.7 L250.8 840.5 L262.8 849.1 L254.2 854.2"/>
<path class="s" d="M245.7 850.8 L259.4 856"/>
<path class="s" d="M235.4 837.1 L242.3 845.7"/>
<path class="s" d="M226.8 910.8 L237.1 922.7"/>
<path class="s" d="M237.1 922.7 L237.1 933"/>
<path class="s" d="M240.5 924.5 L240.5 933"/>
<path class="s" d="M226.8 926.2 L250.8 929.6"/>
<path class="s" d="M230.3 921 L247.4 924.5"/>
<path class="s" d="M225.1 905.6C226 905 228.3 902.5 230.3 902.2C232.3 901.9 236 903.6 237.1 903.9"/>
<path class="s" d="M250.8 938.2 L257.7 945 L271.4 945 L274.8 939.9"/>
<path class="s" d="M271.4 929.6 L276.5 936.4"/>
<path class="s" d="M321 922.7 L327.9 929.6"/>
<path class="s" d="M319.3 926.2 L315.9 938.2 L309 943.3"/>
<path class="s" d="M259.4 893.6 L271.4 895.3"/>
<path class="s" d="M245.7 905.6 L249.1 900.5 L259.4 895.3"/>
<path class="s" d="M274.8 902.2 L271.4 909"/>
<path class="s" d="M365.5 830.3 L389.5 842.3"/>
<path class="s" d="M367.3 826.8 L391.2 838.8"/>
<path class="s" d="M357 820 L355.3 835.4 L362.1 838.8"/>
<path class="s" d="M360.4 820 L362.1 832"/>
<path class="s" d="M387.8 867.9C388.7 868.5 391.2 871.1 392.9 871.4C394.7 871.7 397.2 869.9 398.1 869.7"/>
<path class="s" d="M384.4 859.4 L391.2 859.4 L391.2 864.5"/>
<path class="s" d="M391.2 830.3 L401.5 837.1"/>
<path class="s" d="M403.2 832 L420 832"/>
<path class="s" d="M369 893.6 L379.2 898.8 L391.2 900.5"/>
<path class="d2" d="M365.5 876.5 L365.5 900.5"/>
<path class="d2" d="M379.2 850.8 L379.2 869.7"/>
<path class="s" d="M418.6 891.9C418.9 892.5 419.8 894.8 420 895.3C420.2 895.9 420 895.3 420 895.3"/>
<path class="s" d="M408.4 895.3 L416.9 900.5"/>
<!-- p16_frameQ.py -->
<path class="d" d="M567 997.5 L590.4 1010.7"/>
<path class="s" d="M590.4 1010.7C591.5 1011.2 594.9 1013.8 597 1014C599 1014.3 601.7 1012.5 602.6 1012.2"/>
<path class="d2" d="M584 912.5 L592.3 907.5"/>
<path class="s" d="M592.3 907.5C593.2 907.1 595.7 905.3 597.9 905.2C600.1 905.1 604.2 906.8 605.5 907.1"/>
<path class="s" d="M584 925 L588.5 922.5"/>
<path class="s" d="M584 992.4 L588.5 994.8"/>
<path class="m" d="M533.9 957 L533.9 968.3"/>
<path class="m" d="M661 952.3 L661.6 962.6"/>
<path class="s" d="M581 884.5C581.6 883.7 582.5 880.7 584.7 879.8C586.9 878.8 592.6 879 594.2 878.8"/>
<path class="s" d="M581 884.5 L579.1 897.7"/>
<path class="s" d="M579.1 897.7 L584 898.6"/>
<path class="d2" d="M582.9 900.5 L571.6 916.5"/>
<path class="d2" d="M579.1 897.7 L565.9 914.6"/>
<path class="s" d="M550.8 880.7 L564 907.1"/>
<path class="s" d="M565.9 878.8 L575.3 901.4"/>
<path class="s" d="M569.7 882.6 L575.3 888.2"/>
<path class="s" d="M571.6 880.7 L576.3 886.4"/>
<path class="s" d="M584.7 929.7C585.7 930.9 588.2 935.5 590.4 937.2C592.6 938.9 594.8 940 597.9 940C601.1 940 606.7 938.6 609.2 937.2C611.7 935.8 612.4 932.5 613 931.6"/>
<path class="s" d="M588.5 924 L588.5 929.7"/>
<path class="s" d="M594.2 924 L594.2 928.2"/>
<path class="s" d="M605.5 924 L605.5 929.7"/>
<path class="s" d="M611.1 925 L611.1 931.6"/>
<path class="d2" d="M639.4 946.6 L639.4 971.1"/>
<path class="d2" d="M643.1 948.5 L643.1 969.2"/>
<path class="s" d="M633.7 971.1C634.7 971.8 637.8 975.6 639.4 975.3C640.9 974.9 642.5 970.2 643.1 969.2"/>
<path class="s" d="M547.1 989.9C547.7 993.4 549.6 1004.1 550.8 1010.7C552.1 1017.3 555.9 1025.1 554.6 1029.5C553.4 1033.9 545.2 1035.8 543.3 1037"/>
<path class="s" d="M545.2 1016.3 L554.6 1016.3"/>
<path class="d2" d="M549 993.7 L547.1 1029.5"/>
<path class="t" d="M518.8 1050.2 L552.7 1033.3"/>
<path class="t" d="M528.2 1055.9 L550.8 1044.2"/>
<path class="d" d="M500 1078.5 L556.5 1048.3"/>
<path class="d2" d="M554.6 1030.4 L588.5 1048.3"/>
<path class="s" d="M562.1 1037 L579.1 1045.5"/>
<path class="s" d="M607.3 986.2 L639.4 971.1"/>
<path class="s" d="M599.8 989.9 L607.3 986.2"/>
<path class="d" d="M691.1 961.7 L720 947"/>
<path class="s" d="M699.6 969.2C700.9 968.6 703.8 966.7 707.2 965.5C710.5 964.2 717.8 962.3 720 961.7"/>
<path class="s" d="M699.6 969.2C699.9 970.2 698.1 974.9 701.5 975.3C704.9 975.6 716.9 971.8 720 971.1"/>
<path class="d2" d="M692.1 980.5 L720 967.3"/>
<path class="s" d="M662 991.8 L677 999.4"/>
<path class="s" d="M665.7 984.3 L677 989.9"/>
<path class="s" d="M669.5 982.4 L669.5 991.8"/>
<path class="s" d="M673.3 980.5 L673.3 995.6"/>
<!-- p17_headL.py -->
<path class="s" d="M240 1072.5C243.8 1074.6 257.3 1081.9 262.5 1085C267.7 1088.1 266.7 1089.8 271.2 1091.2C275.8 1092.7 284.8 1091.9 290 1093.8C295.2 1095.6 298.8 1100 302.5 1102.5C306.2 1105 308.8 1106.9 312.5 1108.8C316.2 1110.6 322.9 1112.9 325 1113.8"/>
<path class="s" d="M343 1065 L353.8 1065"/>
<path class="s" d="M343 1075 L353.8 1075"/>
<path class="s" d="M353.8 1117.5C355.2 1118.8 359.8 1122.5 362.5 1125C365.2 1127.5 367.7 1131 370 1132.5C372.3 1134 374.2 1134.5 376.2 1133.8C378.3 1133 381.5 1129 382.5 1128"/>
<path class="d2" d="M272.5 1046.2 L272.5 1071.2"/>
<path class="d2" d="M285 1051.2 L285 1092.5"/>
<path class="s" d="M272.5 1071.2C273.8 1071.9 277.1 1074 280 1075C282.9 1076 286.2 1075.4 290 1077.5C293.8 1079.6 300.2 1083.8 302.5 1087.5C304.8 1091.2 303.5 1097.9 303.8 1100"/>
<!-- p18_manifoldU.py -->
<path class="s" d="M778.5 668.5 L778.5 680.5"/>
<path class="s" d="M781.9 670.2 L783.6 682.2"/>
<path class="s" d="M751.1 671.9 L752.8 680.5"/>
<path class="s" d="M755.4 683.9 L755.5 683.2 L755.7 682.6 L756.1 681.9 L756.6 681.3 L757.3 680.8 L758.1 680.3 L759.1 679.8 L760.1 679.5 L761.2 679.2 L762.4 678.9 L763.6 678.8 L764.8 678.8 L766 678.8 L767.2 678.9 L768.4 679.2 L769.5 679.5 L770.5 679.8 L771.5 680.3 L772.3 680.8 L773 681.3 L773.5 681.9 L773.9 682.6 L774.1 683.2 L774.2 683.9"/>
<path class="s" d="M720.3 673.6C721.1 672.8 722.8 669.5 725.4 668.5C728 667.5 732.8 667.1 735.7 667.6C738.5 668.2 741.1 670.3 742.5 671.9C744 673.5 744 676.2 744.2 677.1"/>
<path class="s" d="M720.3 687.3C721.4 687.9 725.4 689 727.1 690.8C728.8 692.5 729.1 695.6 730.5 697.6C732 699.6 732 701.6 735.7 702.7C739.4 703.9 748 705 752.8 704.5C757.7 703.9 762.5 701.6 764.8 699.3C767.1 697 766.2 692.2 766.5 690.8"/>
<path class="s" d="M730.5 697.6 L730.5 709.6"/>
<path class="s" d="M735.7 709.6 L736.5 718.2"/>
<path class="s" d="M764.8 699.3 L766.5 716.4"/>
<path class="s" d="M736.5 718.2 L766.5 716.4 L785.3 713"/>
<path class="s" d="M727.1 723.3C728.6 722 731.7 720.1 734 719.9C736.3 719.6 739.4 720.4 740.8 721.6C742.2 722.7 743.1 724.9 742.5 726.7C742 728.6 739.7 731.8 737.4 732.7C735.1 733.6 730.8 732.7 728.8 731.8C726.8 731 725.7 729 725.4 727.6C725.1 726.1 725.7 724.6 727.1 723.3Z"/>
<path class="s" d="M735.7 719.9 L732.3 731.8"/>
<path class="s" d="M789.6 636 L805.9 634.2 L816.2 639.4 L812.7 651.4 L805.9 647.9 L797.3 646.2 L795.6 642.8 L790.5 642.8 L789.6 636"/>
<ellipse class="s" cx="801.6" cy="641.1" rx="4.3" ry="2.2"/>
<path class="s" d="M816.2 639.4C817.3 638.5 820.2 635.4 823 634.2C825.9 633.1 829.6 631.7 833.3 632.5C837 633.4 842.1 637.1 845.3 639.4C848.4 641.7 850.7 644.2 852.1 646.2C853.6 648.2 853.6 650.5 853.8 651.4"/>
<path class="s" d="M817.9 649.7C818.2 650.8 820.4 654.2 819.6 656.5C818.7 658.8 816.2 661.8 812.7 663.4C809.3 664.9 803 665.9 799 665.9C795 665.9 790.5 663.8 788.8 663.4"/>
<path class="s" d="M843.6 659.9C844.1 658.5 845 654.5 847 653.1C849 651.7 853.4 650.8 855.5 651.4C857.7 651.9 859.5 654.4 859.8 656.5C860.1 658.6 859.1 662.8 857.3 664.2C855.4 665.6 851 665.5 848.7 665.1C846.4 664.6 844.4 662.5 843.6 661.6C842.7 660.8 843 661.4 843.6 659.9Z"/>
<path class="s" d="M852.1 652.2 L849.6 664.2"/>
<path class="s" d="M863.3 678.8C864 677.3 865.1 672.1 867.5 670.2C870 668.4 875 667.4 877.8 667.6C880.7 667.9 883.2 670.1 884.7 671.9C886.1 673.8 886.1 677.6 886.4 678.8"/>
<path class="s" d="M863.3 678.8C864.5 679.6 868 683.3 871 683.9C874 684.5 879.5 682.5 881.2 682.2"/>
<path class="s" d="M847 624C847.6 625.4 847.6 630.4 850.4 632.5C853.3 634.7 859.5 636.5 864.1 636.8C868.7 637.1 874.7 635.5 877.8 634.2C880.9 633 882.1 630 882.9 629.1"/>
<path class="s" d="M882.9 629.1C883.2 631.1 884.7 637.7 884.7 641.1C884.7 644.5 883.2 648.2 882.9 649.7"/>
<path class="s" d="M853.8 642 L881.2 639.4"/>
<path class="s" d="M853.8 649.7 L898.4 648.8"/>
<path class="s" d="M898.4 625.7 L898.4 648.8"/>
<path class="s" d="M896.6 654.8C897.2 655.9 900.1 658.8 900.1 661.6C900.1 664.5 898.1 669.3 896.6 671.9C895.2 674.5 892.4 676.2 891.5 677.1"/>
<ellipse class="s" cx="882.9" cy="618.8" rx="6" ry="3.4"/>
<ellipse class="s" cx="882.9" cy="618.8" rx="3.4" ry="1.9"/>
<path class="d2" d="M787.9 682.2 L788.8 709.6"/>
<path class="d2" d="M800.8 687.3 L800.8 701"/>
<path class="s" d="M804.2 687.3 L804.2 701"/>
<path class="s" d="M817 689 L817 699.3"/>
<path class="m" d="M821.3 690.8 L823 701"/>
<path class="s" d="M785.3 747.3 L799 769.5"/>
<path class="s" d="M792.2 754.1 L805.9 770"/>
<path class="s" d="M812.7 761 L816.2 770"/>
<path class="s" d="M732.3 754.1 L732.3 767.8"/>
<path class="s" d="M737.4 754.1 L738.3 764.4"/>
<path class="s" d="M740.8 754.1C741.4 755 744 757.5 744.2 759.2C744.5 761 742.8 763.5 742.5 764.4"/>
<path class="s" d="M735.7 651.4 L735.7 661.6 L746 665.1"/>
<path class="s" d="M735.7 651.4 L740.8 654.8"/>
<path class="s" d="M722 659.9 L728.8 651.4"/>
<path class="s" d="M720.3 661.6 L727.1 653.1"/>
<path class="m" d="M727.1 663.4 L747.7 666.8"/>
<path class="s" d="M744.2 666.8 L752.8 680.5"/>
<path class="s" d="M747.7 671.9 L754.5 678.8"/>
<path class="s" d="M788.8 651.4 L795.6 654.8 L795.6 661.6"/>
<path class="s" d="M785.3 654.8 L785.3 663.4"/>
<path class="s" d="M754.5 680.5C755.7 679.9 758.5 677.1 761.4 677.1C764.2 677.1 769.4 678.8 771.6 680.5C773.9 682.2 774.5 686.2 775.1 687.3"/>
<path class="s" d="M769.9 685.6 L781.9 695.9"/>
<path class="d2" d="M778.5 682.2 L778.5 702.7"/>
<path class="d2" d="M783.6 682.2 L785.3 706.2"/>
<path class="s" d="M805.9 630.8 L812.7 634.2"/>
<path class="s" d="M802.5 632.5 L809.3 636.8"/>
<path class="s" d="M819.6 625.7 L828.2 629.1"/>
<path class="s" d="M829.9 624 L829.9 630.8 L833.3 630.8 L833.3 624 L829.9 624"/>
<path class="s" d="M871 612 L881.2 617.1"/>
<path class="s" d="M874.4 610.3 L884.7 615.4"/>
<path class="s" d="M894.9 605.1 L900.1 617.1"/>
<path class="s" d="M898.4 603.4 L903.5 615.4"/>
<path class="s" d="M889.8 624 L898.4 632.5"/>
<path class="s" d="M891.5 620.5 L900.1 629.1"/>
<path class="s" d="M901.8 639.4 L910 644.5"/>
<path class="s" d="M903.5 680.5 L910 692.5"/>
<path class="s" d="M884.7 716.4C885.8 715.6 887.3 712.4 891.5 711.3C895.7 710.2 906.9 709.9 910 709.6"/>
<path class="s" d="M884.7 716.4 L884.7 735.3"/>
<path class="s" d="M901.8 728.4 L901.8 749"/>
<path class="s" d="M884.7 735.3C885.8 736.4 887.3 740.4 891.5 742.1C895.7 743.8 906.9 745 910 745.5"/>
<!-- p19_headJx.py -->
<path class="s" d="M390.8 817.5 L390.8 827.5"/>
<path class="s" d="M430.8 817.5 L430.8 827.5"/>
<path class="s" d="M390.8 827.5C392.2 828.5 394.3 832.7 399.5 833.8C404.7 834.8 416.8 834.8 422 833.8C427.2 832.7 429.3 828.5 430.8 827.5"/>
<path class="s" d="M430.8 803.8 L442 797.5"/>
<path class="s" d="M433.2 807.5 L445.8 801.2"/>
<path class="s" d="M439.5 797.5 L439.5 810"/>
<path class="s" d="M444.5 800 L452 815"/>
<path class="s" d="M402 831.2 L402 838.8"/>
<path class="s" d="M409.5 832.5 L409.5 840"/>
<path class="s" d="M417 832.5 L417 840"/>
<path class="s" d="M439.5 865 L439.5 875"/>
<path class="s" d="M464.5 855 L464.5 872.5"/>
<path class="s" d="M440.4 861.4 L439.6 863.2 L438.6 864.9 L437.2 866.5 L435.6 868 L433.6 869.4 L431.4 870.6 L428.9 871.7 L426.3 872.6 L423.5 873.3 L420.6 873.8 L417.5 874.1 L414.5 874.2 L411.5 874.1 L408.4 873.8 L405.5 873.3 L402.7 872.6 L400.1 871.7 L397.6 870.6 L395.4 869.4 L393.4 868 L391.8 866.5 L390.4 864.9 L389.4 863.2 L388.6 861.4"/>
<path class="s" d="M436.8 867.7 L435.9 869 L434.7 870.2 L433.3 871.4 L431.8 872.4 L430 873.4 L428.1 874.3 L426.1 875 L423.9 875.6 L421.6 876.1 L419.3 876.5 L416.9 876.7 L414.5 876.8 L412.1 876.7 L409.7 876.5 L407.4 876.1 L405.1 875.6 L402.9 875 L400.9 874.3 L399 873.4 L397.2 872.4 L395.7 871.4 L394.3 870.2 L393.1 869 L392.2 867.7"/>
<path class="s" d="M367 843.8 L367 862.5"/>
<path class="s" d="M389.5 850 L389.5 862.5"/>
<path class="s" d="M367 862.5C368.7 863.3 373.2 867.5 377 867.5C380.8 867.5 387.4 863.3 389.5 862.5"/>
<path class="d2" d="M433.2 890 L433.2 915"/>
<path class="d2" d="M442 895 L442 920"/>
<path class="s" d="M464.5 872.5 L464.5 890"/>
<path class="d2" d="M452 872.5 L452 890"/>
<path class="s" d="M457 992.5C459.1 991.7 465.3 988.3 469.5 987.5C473.7 986.7 478.7 986.9 482 987.5C485.3 988.1 488.2 990.6 489.5 991.2"/>
<path class="s" d="M447 992.5C447.8 993.3 450.3 993.8 452 997.5C453.7 1001.2 456.2 1012.1 457 1015"/>
<ellipse class="s" cx="465.8" cy="993.8" rx="3.8" ry="2.5"/>
<path class="d" d="M402 1010 L447 1035"/>
<path class="d2" d="M409.5 1016.2 L452 1041.2"/>
<path class="s" d="M372 805 L382 801.2 L390.8 805"/>
<path class="s" d="M374.5 815 L374.5 825"/>
<path class="s" d="M369.5 820 L377 825"/>
<path class="s" d="M374.5 825C375.3 825.8 377.2 829.2 379.5 830C381.8 830.8 386.8 830 388.2 830"/>
<path class="s" d="M392 872.5 L392 880"/>
<path class="s" d="M404.5 875 L404.5 881.2"/>
<path class="s" d="M422 873.8 L422 882.5"/>
<path class="s" d="M432 870 L432 885"/>
<path class="d2" d="M427 872.5 L427 887.5"/>
<path class="s" d="M409.5 900 L409.5 920"/>
<path class="d2" d="M417 902.5 L417 930"/>
<path class="s" d="M427 890 L427 930"/>
<path class="d2" d="M399.5 905 L399.5 925"/>
<path class="s" d="M382 907.5C383.7 908.8 387.4 912.9 392 915C396.6 917.1 403.7 917.5 409.5 920C415.3 922.5 424.1 928.3 427 930"/>
<path class="s" d="M387 920 L427 940"/>
<path class="s" d="M367 872.5 L352 872.5"/>
<path class="s" d="M367 902.5 L364.5 907.5"/>
<path class="s" d="M467 842.5 L467 855"/>
<path class="s" d="M478.2 852.5 L478.2 862.5"/>
<path class="s" d="M489.5 857.5 L489.5 865"/>
<path class="s" d="M482 865C483.2 866.2 486.2 871.7 489.5 872.5C492.8 873.3 499.9 870.4 502 870"/>
<path class="s" d="M512 900 L517 907.5 L532 902.5"/>
<path class="s" d="M509.5 890 L517 895"/>
<path class="s" d="M542 872.5 L547 865"/>
<path class="s" d="M544.5 876.2 L549.5 867.5"/>
<path class="s" d="M317 865 L324.5 885"/>
<path class="s" d="M322 862.5 L332 885"/>
<path class="s" d="M337 870 L337 900"/>
<path class="s" d="M324.5 885 L367 905"/>
<path class="s" d="M307 895 L322 900"/>
<path class="s" d="M292 900 L307 895"/>
<path class="s" d="M322 910C322.2 908.1 321.2 905.2 323.2 903.8C325.3 902.3 330.8 901 334.5 901.2C338.2 901.5 343.5 903.1 345.8 905C348 906.9 348.9 910.2 348.2 912.5C347.6 914.8 345.1 917.7 342 918.8C338.9 919.8 332.8 919.4 329.5 918.8C326.2 918.1 323.2 916.5 322 915C320.8 913.5 321.8 911.9 322 910Z"/>
<path class="s" d="M322 915 L322 930"/>
<path class="s" d="M348.2 912.5 L350.8 930"/>
<path class="s" d="M350.8 910C352.2 909.4 356 906.2 359.5 906.2C363 906.2 369.3 908.1 372 910C374.7 911.9 375.1 916.2 375.8 917.5"/>
</svg>
</body></html>
